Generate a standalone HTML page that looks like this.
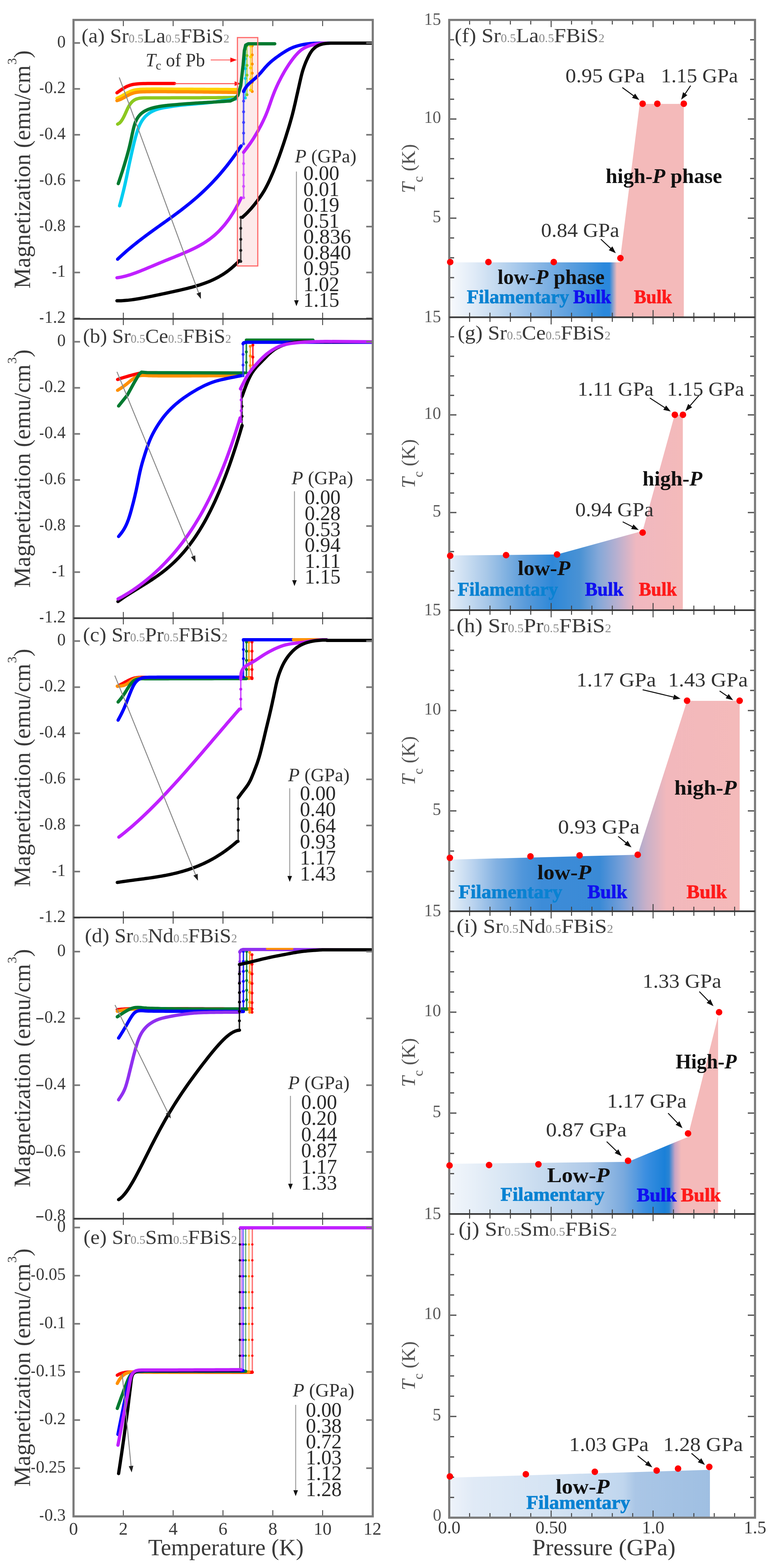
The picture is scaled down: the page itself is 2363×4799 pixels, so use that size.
<!DOCTYPE html>
<html><head><meta charset="utf-8"><title>Figure</title>
<style>html,body{margin:0;padding:0;background:#fff;}svg{display:block;}text{font-family:"Liberation Serif",serif;}</style>
</head><body>
<svg width="2363" height="4799" viewBox="0 0 2363 4799">
<rect width="2363" height="4799" fill="#fff"/>
<defs><linearGradient id="gf" gradientUnits="userSpaceOnUse" x1="1375" y1="0" x2="2093" y2="0"><stop offset="0.0000" stop-color="#f8fafd"/><stop offset="0.1045" stop-color="#e0ebf7"/><stop offset="0.1978" stop-color="#c4daf0"/><stop offset="0.3134" stop-color="#9fc4ea"/><stop offset="0.3955" stop-color="#84b4e4"/><stop offset="0.5223" stop-color="#5a9ede"/><stop offset="0.5933" stop-color="#4494dc"/><stop offset="0.6602" stop-color="#2a88dc"/><stop offset="0.6838" stop-color="#2a88dc"/><stop offset="0.7145" stop-color="#f4baba"/><stop offset="1.0000" stop-color="#f4baba"/></linearGradient>
<linearGradient id="gg" gradientUnits="userSpaceOnUse" x1="1375" y1="0" x2="2090" y2="0"><stop offset="0.0000" stop-color="#e6eff9"/><stop offset="0.1594" stop-color="#a8c8e8"/><stop offset="0.3203" stop-color="#5c9cda"/><stop offset="0.4406" stop-color="#2e88d8"/><stop offset="0.5594" stop-color="#4a92d4"/><stop offset="0.6392" stop-color="#84a8d8"/><stop offset="0.7189" stop-color="#b8b0d0"/><stop offset="0.8000" stop-color="#f0b8c0"/><stop offset="1.0000" stop-color="#f4baba"/></linearGradient>
<linearGradient id="gh" gradientUnits="userSpaceOnUse" x1="1375" y1="0" x2="2264" y2="0"><stop offset="0.0000" stop-color="#eaf2f9"/><stop offset="0.0844" stop-color="#b8d2ee"/><stop offset="0.1597" stop-color="#84b2e2"/><stop offset="0.2531" stop-color="#5096da"/><stop offset="0.3195" stop-color="#3d8cd8"/><stop offset="0.5186" stop-color="#3a8ad6"/><stop offset="0.5984" stop-color="#7aa0d8"/><stop offset="0.6783" stop-color="#c8b0c8"/><stop offset="0.7480" stop-color="#f2b8bc"/><stop offset="1.0000" stop-color="#f4baba"/></linearGradient>
<linearGradient id="gi" gradientUnits="userSpaceOnUse" x1="1375" y1="0" x2="2199" y2="0"><stop offset="0.0000" stop-color="#f2f6fb"/><stop offset="0.2585" stop-color="#d2e2f2"/><stop offset="0.5170" stop-color="#b0cae8"/><stop offset="0.6456" stop-color="#7aaade"/><stop offset="0.7318" stop-color="#3a8ee0"/><stop offset="0.8010" stop-color="#1a80d8"/><stop offset="0.8167" stop-color="#2a84d4"/><stop offset="0.8386" stop-color="#c8a4c4"/><stop offset="0.8617" stop-color="#f4baba"/><stop offset="1.0000" stop-color="#f4baba"/></linearGradient>
<linearGradient id="gj" gradientUnits="userSpaceOnUse" x1="1375" y1="0" x2="2173" y2="0"><stop offset="0.0000" stop-color="#eef3fa"/><stop offset="0.0940" stop-color="#e0eaf6"/><stop offset="0.4073" stop-color="#d4e3f3"/><stop offset="0.6667" stop-color="#c0d6ee"/><stop offset="0.7143" stop-color="#aac6e6"/><stop offset="1.0000" stop-color="#9fbfe2"/></linearGradient>
<clipPath id="clipL"><rect x="228" y="64" width="910" height="4574"/></clipPath></defs>
<polygon points="1375,803 1897,803 1958,318 2093,318 2093,971 1375,971" fill="url(#gf)"/>
<polygon points="1375,1700 1705,1697 1967,1625 2065,1270 2090,1270 2090,1867.5 1375,1867.5" fill="url(#gg)"/>
<polygon points="1375,2631 1952,2616 2041,2339 2103,2145 2264,2145 2264,2789 1375,2789" fill="url(#gh)"/>
<polygon points="1375,3562 1922,3556 2105,3480 2201,3098 2198,3098 2198,3715.5 1375,3715.5" fill="url(#gi)"/>
<polygon points="1375,4522.5 2173,4498.5 2173,4645 1375,4645" fill="url(#gj)"/>
<g clip-path="url(#clipL)">
<rect x="726.7" y="115" width="62.3" height="699" fill="#fdeaea"/>
<line x1="772" y1="280" x2="772" y2="140" stroke="#ff9000" stroke-width="4" stroke-opacity="0.7"/>
<circle cx="772" cy="280" r="4.5" fill="#ff9000"/>
<circle cx="772" cy="252" r="4.5" fill="#ff9000"/>
<circle cx="772" cy="224" r="4.5" fill="#ff9000"/>
<circle cx="772" cy="196" r="4.5" fill="#ff9000"/>
<circle cx="772" cy="168" r="4.5" fill="#ff9000"/>
<circle cx="772" cy="140" r="4.5" fill="#ff9000"/>
<line x1="767" y1="276" x2="767" y2="140" stroke="#ffd200" stroke-width="4" stroke-opacity="0.7"/>
<circle cx="767" cy="276" r="4.5" fill="#ffd200"/>
<circle cx="767" cy="242" r="4.5" fill="#ffd200"/>
<circle cx="767" cy="208" r="4.5" fill="#ffd200"/>
<circle cx="767" cy="174" r="4.5" fill="#ffd200"/>
<circle cx="767" cy="140" r="4.5" fill="#ffd200"/>
<line x1="751" y1="300" x2="751" y2="150" stroke="#00cdf0" stroke-width="4" stroke-opacity="0.8"/>
<circle cx="751" cy="300" r="4.5" fill="#00cdf0"/>
<circle cx="751" cy="270" r="4.5" fill="#00cdf0"/>
<circle cx="751" cy="240" r="4.5" fill="#00cdf0"/>
<circle cx="751" cy="210" r="4.5" fill="#00cdf0"/>
<circle cx="751" cy="180" r="4.5" fill="#00cdf0"/>
<circle cx="751" cy="150" r="4.5" fill="#00cdf0"/>
<line x1="756" y1="290" x2="756" y2="140" stroke="#8cc820" stroke-width="4" stroke-opacity="0.7"/>
<circle cx="756" cy="290" r="4.5" fill="#8cc820"/>
<circle cx="756" cy="260" r="4.5" fill="#8cc820"/>
<circle cx="756" cy="230" r="4.5" fill="#8cc820"/>
<circle cx="756" cy="200" r="4.5" fill="#8cc820"/>
<circle cx="756" cy="170" r="4.5" fill="#8cc820"/>
<circle cx="756" cy="140" r="4.5" fill="#8cc820"/>
<path d="M358,301 L363.7,298.4 L369.4,295.6 L375,292.4 L380.7,289.1 L386.4,285.9 L392.1,282.9 L397.8,280.2 L403.6,278 L409.4,276.2 L415.1,275 L420.9,274.2 L426.7,273.6 L432.5,273.3 L438.1,273.1 L443.5,272.9 L448.7,272.8 L453.9,272.7 L459,272.7 L464.4,272.6 L470,272.6 L475.7,272.6 L481.7,272.6 L487.8,272.6 L494.1,272.6 L500.5,272.7 L507,272.7 L513.5,272.7 L520.2,272.8 L526.8,272.8 L533.5,272.9 L540.1,272.9 L546.6,272.9 L553.1,273 L559.3,273 L565.4,273 L571.3,273 L577.2,273.1 L583,273.1 L588.9,273.1 L594.8,273.2 L600.8,273.2 L606.8,273.2 L612.8,273.3 L618.9,273.3 L625,273.3 L631.2,273.4 L637.3,273.4 L643.5,273.5 L649.7,273.5 L655.9,273.5 L662.2,273.6 L668.4,273.6 L674.6,273.7 L680.8,273.7 L687,273.8 L693.2,273.8 L699.4,273.8 L705.6,273.9 L711.8,273.9 L717.9,274 L724,274" fill="none" stroke="#ffd200" stroke-width="10" stroke-linecap="round" stroke-linejoin="round"/>
<path d="M358,308 L363.7,306.2 L369.4,304 L375,301.1 L380.7,298 L386.4,294.8 L392.1,291.7 L397.8,288.8 L403.6,286.4 L409.4,284.5 L415.1,283.1 L420.9,282.2 L426.7,281.6 L432.5,281.3 L438.1,281.1 L443.5,280.9 L448.7,280.8 L453.9,280.7 L459,280.7 L464.4,280.6 L470,280.6 L475.7,280.6 L481.7,280.6 L487.8,280.6 L494.1,280.6 L500.5,280.6 L507,280.6 L513.5,280.7 L520.2,280.7 L526.8,280.8 L533.5,280.8 L540.1,280.9 L546.6,280.9 L553.1,281 L559.3,281 L565.4,281 L571.3,281.1 L577.2,281.1 L583,281.2 L588.9,281.2 L594.8,281.3 L600.8,281.4 L606.8,281.4 L612.8,281.5 L618.9,281.6 L625,281.7 L631.2,281.7 L637.3,281.8 L643.5,281.9 L649.7,282 L655.9,282.1 L662.2,282.2 L668.4,282.3 L674.6,282.3 L680.8,282.4 L687,282.5 L693.2,282.6 L699.4,282.7 L705.6,282.8 L711.8,282.8 L717.9,282.9 L724,283" fill="none" stroke="#ff9000" stroke-width="10" stroke-linecap="round" stroke-linejoin="round"/>
<path d="M358,284 L363.6,280 L369.2,276 L374.8,272.3 L380.3,269 L385.8,265.9 L391.4,263.3 L397,261.1 L402.6,259.5 L408.4,258.2 L414.3,257.4 L420.3,256.8 L426.4,256.3 L432.6,256 L438.7,255.8 L444.9,255.7 L451.1,255.6 L457.4,255.5 L463.8,255.5 L470.2,255.5 L476.5,255.5 L482.7,255.5 L488.8,255.5 L494.8,255.5 L500.9,255.5 L506.9,255.5 L512.9,255.5 L518.9,255.5 L525,255.5 L531,255.5 L534,255.5" fill="none" stroke="#ff0000" stroke-width="10" stroke-linecap="round" stroke-linejoin="round"/>
<line x1="534" y1="256" x2="724" y2="256" stroke="#ff5050" stroke-width="3"/>
<polygon points="738,256 718,263 718,249" fill="#ff2020"/>
<path d="M360,380 L366.4,376.2 L370.6,371.5 L374.1,366.2 L377.3,360.7 L380.3,354.9 L383.1,348.9 L385.8,342.9 L388.5,336.8 L391.3,330.8 L394.4,325 L397.8,319.5 L401.7,314.4 L406,310 L410.8,306.4 L415.8,303.8 L421,302 L426.1,300.8 L431.3,300.2 L436.7,299.8 L442.4,299.5 L448.4,299.4 L454.7,299.4 L461.3,299.4 L468.1,299.4 L475,299.4 L481.9,299.5 L488.8,299.5 L495.4,299.5 L501.6,299.5 L507.7,299.4 L513.5,299.4 L519.3,299.4 L525.1,299.3 L531.1,299.3 L537.2,299.3 L543.4,299.3 L549.7,299.2 L556,299.2 L562.4,299.2 L568.9,299.2 L575.3,299.2 L581.8,299.2 L588.2,299.2 L594.6,299.2 L600.9,299.2 L607.2,299.2 L613.3,299.2 L619.4,299.1 L625.3,299.1 L631,299.1 L636.7,299.1 L642.5,299 L648.3,299 L654.3,298.9 L660.5,298.9 L666.9,298.8 L673.1,298.7 L679.4,298.7 L685.4,298.6 L691.4,298.5 L697.3,298.4 L703.2,298.3 L709.1,298.2 L715,298.1 L721,298 L724,298" fill="none" stroke="#8cc820" stroke-width="10" stroke-linecap="round" stroke-linejoin="round"/>
<path d="M366,630 L367.6,624.1 L369.2,618.2 L370.8,612.2 L372.3,606.3 L373.8,600.4 L375.3,594.4 L376.8,588.5 L378.3,582.6 L379.7,576.6 L381.1,570.5 L382.5,564.5 L383.8,558.4 L385.1,552.5 L386.4,546.5 L387.7,540.6 L388.9,534.7 L390.1,528.8 L391.3,522.8 L392.6,516.8 L393.8,510.9 L395,504.9 L396.3,499 L397.6,493 L398.9,487.1 L400.2,481.1 L401.5,475.2 L402.8,469.3 L404.1,463.4 L405.5,457.5 L406.9,451.4 L408.3,445.3 L409.8,439.1 L411.3,433 L412.9,426.9 L414.5,420.8 L416.2,414.8 L418,408.7 L419.9,402.7 L421.9,396.8 L424.1,390.9 L426.5,385.1 L429.1,379.5 L432,374 L435.2,368.6 L438.8,363.6 L442.7,358.8 L446.9,354.4 L451.4,350.4 L456.3,346.7 L461.5,343.4 L466.8,340.4 L472.2,337.9 L477.6,335.8 L483.1,334 L488.7,332.5 L494.5,331.1 L500.5,329.9 L506.8,328.8 L513.1,327.7 L519.5,326.7 L525.7,325.7 L531.8,324.8 L537.6,324 L543.4,323.3 L549.2,322.6 L555,321.9 L561,321.3 L567.2,320.7 L573.4,320.1 L579.7,319.5 L586,319 L592.4,318.4 L598.8,317.9 L605.2,317.3 L611.5,316.8 L617.8,316.2 L623.9,315.7 L629.9,315.1 L635.9,314.5 L641.8,313.9 L647.8,313.2 L653.9,312.4 L660.1,311.6 L666.4,310.8 L672.7,309.9 L678.9,309 L685,308 L691,307.1 L697,306.2 L703,305.3 L708.9,304.3 L714.9,303.4 L720.9,302.5 L724,302" fill="none" stroke="#00cdf0" stroke-width="10" stroke-linecap="round" stroke-linejoin="round"/>
<path d="M362,562 L364,556.1 L366,550.2 L367.9,544.2 L369.9,538.3 L371.8,532.3 L373.8,526.4 L375.7,520.4 L377.5,514.4 L379.4,508.4 L381.3,502.3 L383.1,496.2 L384.9,490.1 L386.7,484 L388.5,477.8 L390.2,471.7 L391.9,465.5 L393.6,459.4 L395.2,453.2 L396.7,446.9 L398.2,440.6 L399.6,434.3 L401,428 L402.4,421.6 L403.7,415.4 L405,409.1 L406.4,403 L407.8,396.8 L409.3,390.8 L410.9,384.9 L412.7,379.1 L414.7,373.4 L417.1,368 L419.9,362.7 L423.2,357.7 L426.9,353 L431,348.7 L435.6,344.9 L440.6,341.4 L445.9,338.4 L451.6,335.7 L457.5,333.4 L463.6,331.3 L469.8,329.6 L476,328.1 L482.1,326.8 L488.3,325.7 L494.4,324.8 L500.3,324 L506,323.3 L511.7,322.6 L517.4,322.1 L523.3,321.5 L529.3,320.9 L535.6,320.4 L542,319.9 L548.6,319.3 L555.1,318.8 L561.7,318.3 L568.1,317.8 L574.5,317.3 L580.8,316.9 L587,316.4 L593.3,316 L599.5,315.6 L605.8,315.2 L612.2,314.8 L618.4,314.4 L624.7,314 L630.8,313.7 L636.8,313.3 L642.8,313 L648.7,312.7 L654.6,312.3 L660.5,311.9 L666.5,311.6 L672.5,311.2 L678.5,310.8 L684.4,310.4 L690.3,310 L696.2,309.6 L702,309.2 L705,309" fill="none" stroke="#007a30" stroke-width="10" stroke-linecap="round" stroke-linejoin="round"/>
<path d="M705,309 L718,303 L728,292 L737,262 L744,200 L748,155 L752,138 L760,134 L841,134" fill="none" stroke="#007a30" stroke-width="10" stroke-linecap="round" stroke-linejoin="round"/>
<path d="M360,793.4 L366.4,787.3 L372.8,781.4 L379.2,775.7 L385.6,770 L392,764.5 L398.4,759.1 L404.8,753.8 L411.3,748.6 L417.7,743.5 L424.1,738.4 L430.5,733.5 L436.9,728.6 L443.3,723.8 L449.7,719 L456.1,714.3 L462.5,709.6 L468.9,705 L475.3,700.4 L481.7,695.8 L488.1,691.2 L494.5,686.7 L500.9,682.1 L507.4,677.5 L513.8,672.9 L520.2,668.3 L526.6,663.7 L533,659 L539.4,654.3 L545.8,649.5 L552.2,644.7 L558.6,639.8 L565,634.8 L571.4,629.7 L577.8,624.6 L584.2,619.4 L590.6,614 L597.1,608.6 L603.5,603 L609.9,597.3 L616.3,591.5 L622.7,585.5 L629.1,579.4 L635.5,573.2 L641.9,566.8 L648.3,560.2 L654.7,553.4 L661.1,546.5 L667.5,539.4 L673.9,532.1 L680.3,524.5 L686.7,516.8 L693.2,508.9 L699.6,500.7 L706,492.3 L712.4,483.7 L718.8,474.8 L725.2,465.6 L731.6,456.2 L738,446.6" fill="none" stroke="#0000ff" stroke-width="10" stroke-linecap="round" stroke-linejoin="round"/>
<line x1="745.6" y1="440" x2="745.6" y2="277" stroke="#4040ff" stroke-width="5" stroke-opacity="0.85"/>
<circle cx="745.6" cy="440" r="4.5" fill="#4040ff"/>
<circle cx="745.6" cy="407.4" r="4.5" fill="#4040ff"/>
<circle cx="745.6" cy="374.8" r="4.5" fill="#4040ff"/>
<circle cx="745.6" cy="342.2" r="4.5" fill="#4040ff"/>
<circle cx="745.6" cy="309.6" r="4.5" fill="#4040ff"/>
<circle cx="745.6" cy="277" r="4.5" fill="#4040ff"/>
<path d="M745.6,280 L748.1,274.7 L751,269.5 L754.4,264.8 L758.1,260.4 L762.2,256.1 L766.6,252.1 L771.3,248.1 L776.1,244 L780.9,239.9 L785.6,235.7 L790.1,231.3 L794.4,226.7 L798.6,222.1 L802.6,217.3 L806.7,212.5 L810.7,207.7 L814.9,203.1 L819.1,198.6 L823.5,194.3 L828,190.1 L832.6,186.2 L837.3,182.4 L842.1,178.6 L847,175 L852,171.5 L857,167.9 L862.1,164.4 L867.4,161 L872.7,157.6 L878.1,154.4 L883.6,151.3 L889.1,148.5 L894.8,146 L900.5,143.7 L906.4,141.8 L912.2,140 L918.1,138.5 L924,137.2 L929.9,136 L935.9,135 L941.9,134.2 L948,133.5 L954,133 L960.1,132.6 L966.1,132.4 L972.2,132.2 L978.3,132.1 L984.4,132 L990.7,132 L996.9,132 L1000,132" fill="none" stroke="#0000ff" stroke-width="10" stroke-linecap="round" stroke-linejoin="round"/>
<path d="M1000,132 L1141,132" fill="none" stroke="#0000ff" stroke-width="10" stroke-linecap="round" stroke-linejoin="round"/>
<path d="M358,850.1 L364.4,849.2 L370.9,848.1 L377.3,846.7 L383.8,845.1 L390.2,843.3 L396.6,841.4 L403.1,839.3 L409.5,837 L416,834.7 L422.4,832.3 L428.8,829.8 L435.3,827.2 L441.7,824.6 L448.2,821.9 L454.6,819.2 L461.1,816.5 L467.5,813.8 L473.9,811.1 L480.4,808.4 L486.8,805.7 L493.3,803 L499.7,800.4 L506.1,797.7 L512.6,795.1 L519,792.5 L525.5,789.9 L531.9,787.3 L538.3,784.6 L544.8,782 L551.2,779.4 L557.7,776.7 L564.1,774 L570.5,771.2 L577,768.4 L583.4,765.4 L589.9,762.4 L596.3,759.3 L602.7,756 L609.2,752.5 L615.6,748.9 L622.1,745.1 L628.5,741 L634.9,736.7 L641.4,732.1 L647.8,727.1 L654.3,721.9 L660.7,716.2 L667.2,710.2 L673.6,703.7 L680,696.7 L686.5,689.3 L692.9,681.2 L699.4,672.6 L705.8,663.3 L712.2,653.4 L718.7,642.7 L725.1,631.3 L731.6,619.1 L738,606" fill="none" stroke="#c020ff" stroke-width="10" stroke-linecap="round" stroke-linejoin="round"/>
<line x1="745.6" y1="605" x2="745.6" y2="466" stroke="#d050ff" stroke-width="5" stroke-opacity="0.85"/>
<circle cx="745.6" cy="605" r="4.5" fill="#d050ff"/>
<circle cx="745.6" cy="570.2" r="4.5" fill="#d050ff"/>
<circle cx="745.6" cy="535.5" r="4.5" fill="#d050ff"/>
<circle cx="745.6" cy="500.8" r="4.5" fill="#d050ff"/>
<circle cx="745.6" cy="466" r="4.5" fill="#d050ff"/>
<path d="M745.6,466 L749.4,461 L753.3,455.9 L757.1,450.9 L760.8,445.8 L764.5,440.7 L768.1,435.5 L771.6,430.3 L775.1,425 L778.4,419.6 L781.7,414.2 L784.9,408.7 L788.1,403.3 L791.1,397.9 L794,392.5 L796.9,387.1 L799.8,381.6 L802.6,376 L805.4,370.3 L808.1,364.5 L810.8,358.7 L813.3,352.9 L815.7,347.1 L818,341.4 L820.2,335.6 L822.3,329.7 L824.4,323.8 L826.5,317.8 L828.6,311.7 L830.7,305.7 L832.8,299.7 L835,293.8 L837.2,288 L839.5,282.2 L841.8,276.4 L844.3,270.7 L846.9,264.9 L849.5,259.2 L852.2,253.5 L855,247.9 L857.8,242.4 L860.6,237 L863.5,231.6 L866.5,226.2 L869.5,220.9 L872.6,215.6 L875.8,210.3 L879.1,205.1 L882.4,199.9 L885.8,194.8 L889.3,189.8 L892.8,185 L896.4,180.2 L900.1,175.5 L904,170.8 L908,166.3 L912.1,161.9 L916.5,157.7 L921,153.8 L925.9,150.3 L931.1,147.1 L936.7,144.2 L942.5,141.8 L948.6,139.6 L954.8,137.8 L961,136.3 L967.4,135 L973.7,133.9 L980.1,133.1 L986.6,132.5 L993.2,132.1 L1000,132" fill="none" stroke="#c020ff" stroke-width="10" stroke-linecap="round" stroke-linejoin="round"/>
<path d="M358,920.6 L364.3,920.6 L370.7,920.4 L377,920.1 L383.4,919.6 L389.7,919.1 L396,918.4 L402.4,917.6 L408.7,916.7 L415.1,915.8 L421.4,914.8 L427.7,913.7 L434.1,912.5 L440.4,911.4 L446.7,910.2 L453.1,908.9 L459.4,907.6 L465.8,906.3 L472.1,905 L478.4,903.7 L484.8,902.4 L491.1,901 L497.5,899.7 L503.8,898.3 L510.1,897 L516.5,895.6 L522.8,894.2 L529.2,892.8 L535.5,891.4 L541.8,890 L548.2,888.6 L554.5,887.1 L560.8,885.6 L567.2,884.1 L573.5,882.6 L579.9,880.9 L586.2,879.3 L592.5,877.6 L598.9,875.8 L605.2,873.9 L611.6,871.9 L617.9,869.8 L624.2,867.6 L630.6,865.3 L636.9,862.9 L643.3,860.3 L649.6,857.5 L655.9,854.5 L662.3,851.3 L668.6,848 L674.9,844.3 L681.3,840.5 L687.6,836.4 L694,831.9 L700.3,827.2 L706.6,822.2 L713,816.8 L719.3,811 L725.7,804.9 L732,798.3" fill="none" stroke="#000000" stroke-width="10" stroke-linecap="round" stroke-linejoin="round"/>
<line x1="737" y1="800" x2="737" y2="665" stroke="#202020" stroke-width="4.5" stroke-opacity="0.8"/>
<circle cx="737" cy="800" r="4.5" fill="#202020"/>
<circle cx="737" cy="766.2" r="4.5" fill="#202020"/>
<circle cx="737" cy="732.5" r="4.5" fill="#202020"/>
<circle cx="737" cy="698.8" r="4.5" fill="#202020"/>
<circle cx="737" cy="665" r="4.5" fill="#202020"/>
<path d="M742,665 L746.4,660.9 L750.9,656.8 L755.3,652.5 L759.5,648.2 L763.7,643.7 L767.8,639.2 L771.8,634.5 L775.8,629.7 L779.8,624.8 L783.7,619.8 L787.4,614.9 L791.1,610 L794.7,605.1 L798.1,600.1 L801.5,595.1 L804.7,590 L807.9,584.9 L810.9,579.7 L813.8,574.4 L816.6,569 L819.4,563.5 L822.1,558 L824.8,552.4 L827.3,546.8 L829.7,541.3 L832.1,535.8 L834.6,530.1 L837,524.3 L839.4,518.4 L841.8,512.4 L844.1,506.4 L846.4,500.5 L848.5,494.8 L850.6,489.1 L852.7,483.5 L854.8,477.9 L856.8,472.1 L858.9,466.3 L860.9,460.5 L862.9,454.6 L864.9,448.7 L866.9,442.8 L868.9,436.9 L870.8,431 L872.7,425.2 L874.6,419.4 L876.4,413.6 L878.2,407.8 L880,402 L881.8,396.2 L883.6,390.4 L885.4,384.5 L887.1,378.7 L888.8,372.9 L890.4,367 L892.1,361.1 L893.7,355.2 L895.3,349.3 L896.8,343.2 L898.3,337.2 L899.8,331 L901.2,324.9 L902.7,318.8 L904.1,312.7 L905.4,306.6 L906.8,300.5 L908.1,294.5 L909.5,288.5 L910.9,282.5 L912.2,276.4 L913.6,270.3 L915,264.1 L916.4,257.8 L917.8,251.5 L919.2,245.4 L920.6,239.3 L922,233.3 L923.5,227.5 L925,221.7 L926.7,216 L928.6,210.1 L930.7,204.1 L932.9,198.1 L935.2,192.2 L937.6,186.5 L940.2,180.9 L942.9,175.2 L945.8,169.5 L948.9,163.8 L952.4,158.4 L956.1,153.4 L960.4,148.9 L965,144.8 L970.1,141.4 L975.5,138.5 L981.2,136.3 L987.2,134.7 L993.4,133.5 L999.6,132.8 L1005.7,132.4 L1011.8,132.1 L1017.8,132 L1023.9,132 L1030,132" fill="none" stroke="#000000" stroke-width="10" stroke-linecap="round" stroke-linejoin="round"/>
<path d="M1030,132 L1141,132" fill="none" stroke="#000000" stroke-width="10" stroke-linecap="round" stroke-linejoin="round"/>
<rect x="726.7" y="115" width="62.3" height="699" fill="none" stroke="#ff6a6a" stroke-width="3.5"/>
<line x1="645" y1="183.5" x2="712" y2="183.5" stroke="#ff7070" stroke-width="3"/>
<polygon points="725,183.5 705,191 705,176" fill="#ff1010"/>
<line x1="365" y1="237" x2="610.8" y2="903.7" stroke="#8a8a8a" stroke-width="3"/>
<polygon points="615,915 601.5,898.7 614.6,893.8" fill="#222"/>
<line x1="774" y1="1130" x2="774" y2="1056" stroke="#ff0000" stroke-width="4.5" stroke-opacity="0.85"/>
<circle cx="774" cy="1130" r="4.5" fill="#ff0000"/>
<circle cx="774" cy="1093" r="4.5" fill="#ff0000"/>
<circle cx="774" cy="1056" r="4.5" fill="#ff0000"/>
<line x1="766" y1="1148" x2="766" y2="1060" stroke="#ff9000" stroke-width="4.5" stroke-opacity="0.8"/>
<circle cx="766" cy="1148" r="4.5" fill="#ff9000"/>
<circle cx="766" cy="1118.7" r="4.5" fill="#ff9000"/>
<circle cx="766" cy="1089.3" r="4.5" fill="#ff9000"/>
<circle cx="766" cy="1060" r="4.5" fill="#ff9000"/>
<path d="M360,1161.4 L365.7,1159.5 L371.5,1157.6 L377.3,1155.8 L383.2,1154 L389.2,1152.2 L395.3,1150.4 L401.4,1148.7 L407.5,1147.1 L413.5,1145.6 L419.5,1144.2 L425.2,1143 L430.8,1142.1 L436.1,1141.4 L441.4,1141 L446.7,1140.8 L452.3,1140.7 L458.3,1140.7 L464.5,1140.7 L471.1,1140.8 L477.8,1140.8 L484.7,1140.9 L491.3,1140.9 L497.6,1141 L503.3,1141 L508.7,1141 L513.8,1141 L518.8,1141 L523.9,1141 L529,1141 L534.4,1141 L539.8,1141.1 L545.4,1141.1 L551.1,1141.1 L556.9,1141.1 L562.8,1141.1 L568.8,1141.2 L574.9,1141.2 L581.1,1141.2 L587.3,1141.2 L593.6,1141.3 L600,1141.3 L606.5,1141.3 L613,1141.4 L619.5,1141.4 L626.1,1141.4 L632.6,1141.5 L639.3,1141.5 L645.9,1141.6 L652.5,1141.6 L659.1,1141.6 L665.7,1141.7 L672.3,1141.7 L678.9,1141.7 L685.5,1141.8 L692,1141.8 L698.4,1141.8 L704.8,1141.9 L711.2,1141.9 L717.5,1141.9 L723.8,1142 L730,1142 L733,1142" fill="none" stroke="#ff0000" stroke-width="10" stroke-linecap="round" stroke-linejoin="round"/>
<path d="M360,1194.5 L365.1,1191.3 L370.3,1188 L375.3,1184.6 L380.2,1181 L385.1,1177.3 L389.9,1173.5 L394.6,1169.5 L399.4,1165.6 L404.3,1161.7 L409.4,1158.1 L414.7,1154.8 L420.1,1152.2 L425.6,1150.3 L431.1,1149.3 L436.6,1148.9 L442,1149.1 L447,1149.3 L451.5,1149.6 L455.7,1149.9 L459.5,1150 L463.3,1150.1 L467.2,1150.2 L471.3,1150.3 L475.6,1150.3 L480.2,1150.3 L484.9,1150.4 L489.8,1150.4 L495,1150.4 L500.3,1150.5 L505.8,1150.5 L511.4,1150.5 L517.2,1150.5 L523.2,1150.5 L529.3,1150.5 L535.5,1150.5 L541.8,1150.5 L548.3,1150.5 L554.9,1150.5 L561.5,1150.4 L568.3,1150.4 L575.1,1150.4 L582,1150.4 L588.9,1150.3 L595.9,1150.3 L603,1150.3 L610.1,1150.3 L617.2,1150.2 L624.3,1150.2 L631.4,1150.2 L638.6,1150.1 L645.7,1150.1 L652.8,1150.1 L659.9,1150 L667,1150 L674,1150 L680.9,1149.9 L687.8,1149.9 L694.6,1149.9 L701.4,1149.9 L708.1,1149.9 L714.6,1149.8 L721.1,1149.8 L727.6,1149.8 L733.9,1149.8 L740,1149.8" fill="none" stroke="#ff9000" stroke-width="10" stroke-linecap="round" stroke-linejoin="round"/>
<path d="M363,1242.6 L389.7,1209.4 L409.6,1173 L426,1145 L433,1139 L450,1140.5 L748,1141.5" fill="none" stroke="#007a30" stroke-width="10" stroke-linecap="round" stroke-linejoin="round"/>
<line x1="754" y1="1141" x2="754" y2="1045" stroke="#007a30" stroke-width="5" stroke-opacity="0.85"/>
<circle cx="754" cy="1141" r="4.5" fill="#007a30"/>
<circle cx="754" cy="1109" r="4.5" fill="#007a30"/>
<circle cx="754" cy="1077" r="4.5" fill="#007a30"/>
<circle cx="754" cy="1045" r="4.5" fill="#007a30"/>
<path d="M754,1041 L958,1041" fill="none" stroke="#007a30" stroke-width="10" stroke-linecap="round" stroke-linejoin="round"/>
<path d="M363,1642 L366.9,1637.1 L370.8,1632.3 L374.5,1627.2 L378,1622 L381.1,1616.7 L384,1611.3 L386.6,1605.8 L389.1,1600.2 L391.4,1594.4 L393.5,1588.6 L395.5,1582.6 L397.4,1576.6 L399.2,1570.5 L400.9,1564.5 L402.6,1558.4 L404.2,1552.3 L405.8,1546.3 L407.4,1540.3 L408.9,1534.4 L410.3,1528.5 L411.8,1522.5 L413.2,1516.6 L414.5,1510.7 L415.9,1504.8 L417.2,1498.9 L418.4,1492.9 L419.7,1487 L420.9,1481 L422.1,1475.1 L423.3,1469.1 L424.4,1463.2 L425.6,1457.3 L426.9,1451.3 L428.1,1445.4 L429.5,1439.5 L430.9,1433.6 L432.4,1427.7 L434,1421.8 L435.6,1415.9 L437.4,1410 L439.1,1404.1 L441,1398.2 L442.8,1392.3 L444.7,1386.4 L446.6,1380.5 L448.6,1374.5 L450.6,1368.6 L452.7,1362.7 L454.8,1356.8 L457.1,1351 L459.5,1345.2 L462,1339.5 L464.6,1333.9 L467.4,1328.3 L470.3,1322.8 L473.3,1317.4 L476.4,1312 L479.6,1306.7 L482.8,1301.5 L486.2,1296.3 L489.7,1291.1 L493.2,1286.1 L496.9,1281 L500.6,1276.1 L504.5,1271.2 L508.5,1266.5 L512.7,1261.8 L516.9,1257.2 L521.3,1252.7 L525.7,1248.3 L530.3,1244 L535,1239.7 L539.7,1235.6 L544.6,1231.6 L549.5,1227.6 L554.5,1223.8 L559.5,1220 L564.6,1216.3 L569.8,1212.8 L575,1209.3 L580.3,1205.8 L585.6,1202.5 L591,1199.2 L596.5,1196 L601.9,1192.8 L607.4,1189.7 L612.9,1186.8 L618.5,1183.9 L624.1,1181 L629.8,1178.3 L635.5,1175.8 L641.3,1173.4 L647.1,1171.1 L653.1,1169 L659.1,1167.1 L665.1,1165.3 L671.2,1163.7 L677.4,1162.2 L683.5,1160.8 L689.6,1159.5 L695.7,1158.2 L701.8,1156.9 L707.8,1155.7 L713.8,1154.5 L719.8,1153.3 L725.8,1152.1 L731.6,1151 L737.5,1149.8" fill="none" stroke="#0000ff" stroke-width="10" stroke-linecap="round" stroke-linejoin="round"/>
<line x1="744" y1="1150" x2="744" y2="1052" stroke="#3030ff" stroke-width="5" stroke-opacity="0.85"/>
<circle cx="744" cy="1150" r="4.5" fill="#3030ff"/>
<circle cx="744" cy="1117.3" r="4.5" fill="#3030ff"/>
<circle cx="744" cy="1084.7" r="4.5" fill="#3030ff"/>
<circle cx="744" cy="1052" r="4.5" fill="#3030ff"/>
<path d="M744,1052 L746,1049 L755,1047.6 L1141,1047.6" fill="none" stroke="#0000ff" stroke-width="10" stroke-linecap="round" stroke-linejoin="round"/>
<path d="M361,1841 L367.4,1836.4 L373.9,1831.9 L380.3,1827.5 L386.8,1823.2 L393.2,1819.1 L399.6,1815 L406.1,1810.9 L412.5,1806.9 L419,1803 L425.4,1799 L431.8,1795.1 L438.3,1791.1 L444.7,1787.1 L451.2,1783 L457.6,1778.9 L464.1,1774.7 L470.5,1770.4 L476.9,1766 L483.4,1761.5 L489.8,1756.8 L496.3,1752 L502.7,1747 L509.1,1741.8 L515.6,1736.4 L522,1730.8 L528.5,1724.9 L534.9,1718.9 L541.3,1712.5 L547.8,1705.9 L554.2,1698.9 L560.7,1691.7 L567.1,1684.1 L573.5,1676.2 L580,1668 L586.4,1659.3 L592.9,1650.3 L599.3,1640.9 L605.7,1631.1 L612.2,1620.8 L618.6,1610.1 L625.1,1599 L631.5,1587.3 L637.9,1575.2 L644.4,1562.5 L650.8,1549.4 L657.3,1535.7 L663.7,1521.4 L670.2,1506.6 L676.6,1491.2 L683,1475.2 L689.5,1458.6 L695.9,1441.4 L702.4,1423.6 L708.8,1405 L715.2,1385.8 L721.7,1366 L728.1,1345.4 L734.6,1324.1 L741,1302.1" fill="none" stroke="#000000" stroke-width="10" stroke-linecap="round" stroke-linejoin="round"/>
<line x1="741" y1="1305" x2="741" y2="1213" stroke="#000000" stroke-width="4.5" stroke-opacity="0.8"/>
<circle cx="741" cy="1305" r="4.5" fill="#000000"/>
<circle cx="741" cy="1274.3" r="4.5" fill="#000000"/>
<circle cx="741" cy="1243.7" r="4.5" fill="#000000"/>
<circle cx="741" cy="1213" r="4.5" fill="#000000"/>
<path d="M741,1213 L743.1,1207.2 L745.2,1201.4 L747.3,1195.5 L749.4,1189.8 L751.6,1184 L753.8,1178.3 L756.1,1172.6 L758.5,1166.9 L761,1161.2 L763.7,1155.5 L766.5,1149.9 L769.5,1144.5 L772.6,1139.3 L776.1,1134.3 L779.7,1129.5 L783.5,1124.8 L787.5,1120.3 L791.6,1115.9 L795.9,1111.5 L800.1,1107.2 L804.4,1102.8 L808.7,1098.4 L813,1094 L817.3,1089.5 L821.7,1085.2 L826.3,1080.9 L830.9,1076.8 L835.7,1073 L840.7,1069.4 L845.9,1066.1 L851.3,1063.2 L856.9,1060.5 L862.6,1058.1 L868.5,1055.9 L874.4,1053.9 L880.4,1052.1 L886.4,1050.6 L892.5,1049.2 L898.5,1048.1 L904.5,1047.2 L910.6,1046.6 L916.7,1046.2 L922.7,1046 L928.8,1045.9 L934.9,1045.9 L941,1045.9 L947.1,1045.9 L953.3,1045.9 L959.5,1045.9 L965.7,1045.9 L971.9,1045.9 L978.2,1045.9 L984.4,1045.9 L990.6,1046 L996.9,1046 L1000,1046" fill="none" stroke="#000000" stroke-width="10" stroke-linecap="round" stroke-linejoin="round"/>
<path d="M1000,1046 L1141,1046" fill="none" stroke="#000000" stroke-width="10" stroke-linecap="round" stroke-linejoin="round"/>
<path d="M361.3,1833.1 L367.6,1829.8 L374,1826.3 L380.3,1822.7 L386.6,1818.9 L393,1815 L399.3,1811 L405.6,1806.8 L412,1802.5 L418.3,1798.1 L424.6,1793.5 L431,1788.8 L437.3,1784 L443.6,1779 L450,1773.9 L456.3,1768.6 L462.6,1763.2 L469,1757.7 L475.3,1752 L481.6,1746.1 L488,1740.1 L494.3,1733.9 L500.6,1727.5 L507,1721 L513.3,1714.3 L519.6,1707.4 L526,1700.3 L532.3,1693 L538.6,1685.5 L545,1677.7 L551.3,1669.7 L557.7,1661.5 L564,1653 L570.3,1644.3 L576.7,1635.3 L583,1626 L589.3,1616.4 L595.7,1606.5 L602,1596.2 L608.3,1585.7 L614.7,1574.7 L621,1563.5 L627.3,1551.8 L633.7,1539.7 L640,1527.3 L646.3,1514.4 L652.7,1501 L659,1487.3 L665.3,1473 L671.7,1458.2 L678,1442.9 L684.3,1427.1 L690.7,1410.7 L697,1393.8 L703.3,1376.3 L709.7,1358.1 L716,1339.3 L722.3,1319.9 L728.7,1299.8 L735,1279" fill="none" stroke="#c020ff" stroke-width="10" stroke-linecap="round" stroke-linejoin="round"/>
<line x1="738" y1="1290" x2="738" y2="1191" stroke="#c020ff" stroke-width="4.5" stroke-opacity="0.8"/>
<circle cx="738" cy="1290" r="4.5" fill="#c020ff"/>
<circle cx="738" cy="1257" r="4.5" fill="#c020ff"/>
<circle cx="738" cy="1224" r="4.5" fill="#c020ff"/>
<circle cx="738" cy="1191" r="4.5" fill="#c020ff"/>
<path d="M736,1190 L738.8,1184.5 L741.6,1178.9 L744.4,1173.4 L747.2,1167.9 L750,1162.4 L753,1157 L756,1151.8 L759.3,1146.6 L762.7,1141.5 L766.3,1136.6 L770,1131.7 L773.9,1126.9 L777.9,1122.3 L782,1117.7 L786.2,1113.1 L790.4,1108.4 L794.7,1103.8 L799.2,1099.2 L803.7,1094.7 L808.3,1090.4 L813.1,1086.2 L817.9,1082.2 L822.9,1078.5 L827.9,1075 L833,1071.6 L838.3,1068.5 L843.6,1065.5 L849,1062.8 L854.5,1060.3 L860.1,1058.2 L865.7,1056.4 L871.5,1054.8 L877.3,1053.5 L883.2,1052.4 L889.2,1051.4 L895.2,1050.6 L901.2,1049.8 L907.3,1049.1 L913.4,1048.5 L919.6,1048 L925.8,1047.5 L932,1047.1 L938.3,1046.8 L944.5,1046.5 L950.7,1046.2 L956.9,1045.9 L963.1,1045.7 L969.3,1045.6 L975.5,1045.4 L981.6,1045.3 L987.7,1045.2 L993.9,1045.1 L1000,1045" fill="none" stroke="#c020ff" stroke-width="10" stroke-linecap="round" stroke-linejoin="round"/>
<path d="M1000,1045 L1141,1046" fill="none" stroke="#c020ff" stroke-width="10" stroke-linecap="round" stroke-linejoin="round"/>
<line x1="358" y1="1138" x2="594.1" y2="1709.9" stroke="#8a8a8a" stroke-width="3"/>
<polygon points="598.7,1721 584.6,1705.2 597.5,1699.8" fill="#222"/>
<line x1="771.4" y1="2077" x2="771.4" y2="1965" stroke="#ff0000" stroke-width="4.5" stroke-opacity="0.85"/>
<circle cx="771.4" cy="2077" r="4.5" fill="#ff0000"/>
<circle cx="771.4" cy="2049" r="4.5" fill="#ff0000"/>
<circle cx="771.4" cy="2021" r="4.5" fill="#ff0000"/>
<circle cx="771.4" cy="1993" r="4.5" fill="#ff0000"/>
<circle cx="771.4" cy="1965" r="4.5" fill="#ff0000"/>
<line x1="761.8" y1="2077" x2="761.8" y2="1965" stroke="#ff9000" stroke-width="4.5" stroke-opacity="0.85"/>
<circle cx="761.8" cy="2077" r="4.5" fill="#ff9000"/>
<circle cx="761.8" cy="2049" r="4.5" fill="#ff9000"/>
<circle cx="761.8" cy="2021" r="4.5" fill="#ff9000"/>
<circle cx="761.8" cy="1993" r="4.5" fill="#ff9000"/>
<circle cx="761.8" cy="1965" r="4.5" fill="#ff9000"/>
<line x1="754.3" y1="2077" x2="754.3" y2="1965" stroke="#007a30" stroke-width="4.5" stroke-opacity="0.85"/>
<circle cx="754.3" cy="2077" r="4.5" fill="#007a30"/>
<circle cx="754.3" cy="2049" r="4.5" fill="#007a30"/>
<circle cx="754.3" cy="2021" r="4.5" fill="#007a30"/>
<circle cx="754.3" cy="1993" r="4.5" fill="#007a30"/>
<circle cx="754.3" cy="1965" r="4.5" fill="#007a30"/>
<path d="M360,2100.6 L365.9,2097.2 L371.8,2093.9 L377.6,2090.8 L383.2,2087.7 L388.7,2084.8 L394.1,2082 L399.6,2079.5 L405.1,2077.3 L410.6,2075.5 L416.3,2074.3 L422.1,2073.6 L428,2073.2 L433.6,2073 L438.8,2073 L443.4,2072.9 L447.5,2072.9 L451.3,2072.9 L455.1,2072.9 L459,2072.9 L463,2072.9 L467.3,2072.9 L471.7,2072.9 L476.3,2072.9 L481.1,2072.9 L486.1,2072.9 L491.2,2072.9 L496.5,2072.9 L501.9,2072.9 L507.5,2073 L513.2,2073 L519.1,2073 L525,2073.1 L531.1,2073.1 L537.3,2073.1 L543.6,2073.2 L550,2073.2 L556.5,2073.3 L563.1,2073.3 L569.7,2073.4 L576.4,2073.4 L583.2,2073.5 L590.1,2073.5 L597,2073.6 L603.9,2073.7 L610.9,2073.7 L617.9,2073.8 L625,2073.8 L632,2073.9 L639.1,2074 L646.2,2074 L653.3,2074.1 L660.4,2074.1 L667.5,2074.2 L674.5,2074.3 L681.5,2074.3 L688.5,2074.4 L695.5,2074.4 L702.4,2074.5 L709.3,2074.5 L716.1,2074.6 L722.8,2074.7 L729.5,2074.7 L736.1,2074.8 L742.7,2074.8 L749.1,2074.9 L755.5,2074.9 L761.8,2074.9 L768,2075 L771,2075" fill="none" stroke="#ff0000" stroke-width="10" stroke-linecap="round" stroke-linejoin="round"/>
<path d="M359,2100 L365.5,2099.7 L371.9,2099.2 L378.2,2098 L384,2095.7 L389.5,2092.8 L394.8,2089.4 L399.8,2085.6 L404.7,2082 L409.6,2078.9 L414.7,2076.7 L420.1,2075.4 L425.7,2074.9 L431.2,2074.7 L436.5,2074.8 L441.3,2074.9 L445.5,2075 L449.4,2075 L453.2,2075 L457,2075 L461,2075 L465.2,2075.1 L469.6,2075.1 L474.1,2075.1 L478.9,2075.1 L483.8,2075.1 L488.9,2075.1 L494.1,2075.1 L499.5,2075.2 L505.1,2075.2 L510.8,2075.2 L516.6,2075.2 L522.6,2075.2 L528.7,2075.2 L534.9,2075.3 L541.2,2075.3 L547.6,2075.3 L554.1,2075.3 L560.7,2075.3 L567.4,2075.4 L574.1,2075.4 L580.9,2075.4 L587.8,2075.4 L594.7,2075.5 L601.7,2075.5 L608.7,2075.5 L615.7,2075.5 L622.8,2075.5 L629.9,2075.6 L636.9,2075.6 L644,2075.6 L651.1,2075.6 L658.2,2075.7 L665.3,2075.7 L672.3,2075.7 L679.4,2075.7 L686.3,2075.8 L693.3,2075.8 L700.2,2075.8 L707,2075.8 L713.8,2075.8 L720.5,2075.9 L727.1,2075.9 L733.6,2075.9 L740.1,2075.9 L746.5,2076 L752.8,2076 L759,2076 L762,2076" fill="none" stroke="#ff9000" stroke-width="10" stroke-linecap="round" stroke-linejoin="round"/>
<path d="M361.5,2148.5 L365.7,2143.5 L369.8,2138.5 L373.7,2133.3 L377.5,2127.9 L381.2,2122.5 L384.7,2116.9 L388.1,2111.4 L391.5,2105.9 L394.9,2100.6 L398.4,2095.4 L402.3,2090.6 L406.5,2086.2 L411.2,2082.5 L416.4,2079.9 L422,2078.3 L427.8,2077.5 L433.5,2077.3 L438.7,2077.3 L443.4,2077.4 L447.5,2077.4 L451.3,2077.5 L455.1,2077.5 L459.1,2077.5 L463.2,2077.4 L467.5,2077.4 L472,2077.4 L476.7,2077.4 L481.6,2077.4 L486.7,2077.4 L491.9,2077.4 L497.3,2077.4 L502.9,2077.4 L508.6,2077.4 L514.5,2077.4 L520.4,2077.3 L526.5,2077.3 L532.8,2077.3 L539.1,2077.3 L545.6,2077.3 L552.1,2077.3 L558.7,2077.3 L565.4,2077.3 L572.2,2077.3 L579.1,2077.3 L586,2077.2 L592.9,2077.2 L599.9,2077.2 L607,2077.2 L614.1,2077.2 L621.2,2077.2 L628.3,2077.2 L635.4,2077.2 L642.5,2077.2 L649.6,2077.2 L656.8,2077.1 L663.8,2077.1 L670.9,2077.1 L677.9,2077.1 L684.9,2077.1 L691.8,2077.1 L698.7,2077.1 L705.5,2077.1 L712.2,2077.1 L718.9,2077.1 L725.5,2077 L732,2077 L738.4,2077 L744.8,2077 L751,2077 L754,2077" fill="none" stroke="#007a30" stroke-width="10" stroke-linecap="round" stroke-linejoin="round"/>
<path d="M361.5,2204 L364.5,2198.3 L367.6,2192.6 L370.6,2186.9 L373.5,2181.1 L376.2,2175.4 L378.8,2169.7 L381.3,2163.9 L383.7,2158.2 L386,2152.5 L388.3,2146.7 L390.5,2140.9 L392.8,2135.1 L395.1,2129.3 L397.4,2123.4 L399.8,2117.6 L402.2,2111.7 L404.9,2105.8 L407.7,2099.9 L410.9,2094.2 L414.5,2088.8 L418.7,2084.1 L423.4,2080.2 L428.6,2077.3 L434.1,2075.2 L439.9,2073.9 L445.7,2073.2 L451.3,2072.9 L456.7,2072.8 L461.5,2072.8 L465.8,2072.7 L469.8,2072.7 L473.7,2072.7 L477.7,2072.7 L481.9,2072.6 L486.3,2072.6 L490.9,2072.6 L495.8,2072.6 L500.8,2072.6 L506,2072.6 L511.4,2072.5 L517,2072.5 L522.7,2072.5 L528.6,2072.5 L534.6,2072.5 L540.7,2072.5 L547,2072.5 L553.4,2072.5 L560,2072.5 L566.6,2072.5 L573.3,2072.5 L580,2072.5 L586.9,2072.5 L593.8,2072.5 L600.8,2072.5 L607.8,2072.5 L614.9,2072.5 L621.9,2072.5 L629,2072.5 L636.1,2072.5 L643.2,2072.5 L650.3,2072.5 L657.4,2072.5 L664.5,2072.5 L671.5,2072.5 L678.5,2072.5 L685.4,2072.5 L692.2,2072.5 L699,2072.5 L705.7,2072.5 L712.4,2072.5 L718.9,2072.5 L725.4,2072.5 L731.7,2072.5 L738,2072.5 L741,2072.5" fill="none" stroke="#0000ff" stroke-width="10" stroke-linecap="round" stroke-linejoin="round"/>
<line x1="745" y1="2072" x2="745" y2="1960" stroke="#0000ff" stroke-width="5" stroke-opacity="0.85"/>
<circle cx="745" cy="2072" r="4.5" fill="#0000ff"/>
<circle cx="745" cy="2044" r="4.5" fill="#0000ff"/>
<circle cx="745" cy="2016" r="4.5" fill="#0000ff"/>
<circle cx="745" cy="1988" r="4.5" fill="#0000ff"/>
<circle cx="745" cy="1960" r="4.5" fill="#0000ff"/>
<path d="M745,1958 L898,1958" fill="none" stroke="#0000ff" stroke-width="10" stroke-linecap="round" stroke-linejoin="round"/>
<path d="M898,1958 L990,1958" fill="none" stroke="#ff9000" stroke-width="10" stroke-linecap="round" stroke-linejoin="round"/>
<path d="M363.7,2562.1 L370,2557.3 L376.2,2552.4 L382.5,2547.3 L388.7,2542.2 L395,2536.9 L401.3,2531.6 L407.5,2526.2 L413.8,2520.6 L420,2515 L426.3,2509.3 L432.6,2503.5 L438.8,2497.7 L445.1,2491.7 L451.3,2485.7 L457.6,2479.6 L463.8,2473.4 L470.1,2467.1 L476.4,2460.8 L482.6,2454.4 L488.9,2447.9 L495.1,2441.4 L501.4,2434.8 L507.7,2428.2 L513.9,2421.5 L520.2,2414.7 L526.4,2407.9 L532.7,2401.1 L539,2394.2 L545.2,2387.3 L551.5,2380.3 L557.7,2373.3 L564,2366.2 L570.3,2359.1 L576.5,2352 L582.8,2344.8 L589,2337.7 L595.3,2330.4 L601.6,2323.2 L607.8,2316 L614.1,2308.7 L620.3,2301.4 L626.6,2294.1 L632.9,2286.8 L639.1,2279.5 L645.4,2272.2 L651.6,2264.8 L657.9,2257.5 L664.1,2250.2 L670.4,2242.9 L676.7,2235.5 L682.9,2228.2 L689.2,2220.9 L695.4,2213.6 L701.7,2206.4 L708,2199.1 L714.2,2191.9 L720.5,2184.6 L726.7,2177.4 L733,2170.3" fill="none" stroke="#c020ff" stroke-width="10" stroke-linecap="round" stroke-linejoin="round"/>
<line x1="737" y1="2170" x2="737" y2="2079" stroke="#c020ff" stroke-width="4.5" stroke-opacity="0.8"/>
<circle cx="737" cy="2170" r="4.5" fill="#c020ff"/>
<circle cx="737" cy="2139.7" r="4.5" fill="#c020ff"/>
<circle cx="737" cy="2109.3" r="4.5" fill="#c020ff"/>
<circle cx="737" cy="2079" r="4.5" fill="#c020ff"/>
<path d="M737,2079 L737.3,2072.8 L737.4,2066.4 L738.1,2060.4 L739.6,2054.9 L741.9,2049.8 L745,2045.2 L748.9,2041.2 L753.7,2037.6 L759,2034.3 L764.7,2031.2 L770.3,2028 L775.9,2024.8 L781.2,2021.5 L786.4,2018.1 L791.6,2014.6 L796.8,2011.1 L802,2007.7 L807.4,2004.3 L812.7,2001 L818.1,1997.9 L823.4,1994.9 L828.8,1992.1 L834.3,1989.3 L839.8,1986.6 L845.4,1984 L851,1981.6 L856.7,1979.3 L862.4,1977.2 L868.2,1975.3 L874.1,1973.7 L880,1972.3 L886.1,1971.1 L892.2,1970.1 L898.3,1969.2 L904.5,1968.5 L910.6,1967.7 L916.8,1967 L923.1,1966.2 L929.4,1965.4 L935.7,1964.4 L942.2,1963.5 L948.6,1962.5 L955,1961.5 L961.2,1960.6 L967.3,1959.8 L973.2,1959.1 L979.1,1958.5 L984.9,1958.1 L990.9,1957.9 L997,1957.9 L1000,1958" fill="none" stroke="#c020ff" stroke-width="10" stroke-linecap="round" stroke-linejoin="round"/>
<path d="M359,2700.8 L365.2,2699.9 L371.4,2698.9 L377.6,2698 L383.9,2697.1 L390.1,2696.3 L396.3,2695.4 L402.5,2694.6 L408.7,2693.8 L414.9,2692.9 L421.2,2692.1 L427.4,2691.3 L433.6,2690.5 L439.8,2689.7 L446,2688.8 L452.2,2688 L458.4,2687.1 L464.7,2686.2 L470.9,2685.2 L477.1,2684.3 L483.3,2683.3 L489.5,2682.2 L495.7,2681.2 L502,2680 L508.2,2678.9 L514.4,2677.6 L520.6,2676.3 L526.8,2675 L533,2673.5 L539.2,2672.1 L545.5,2670.5 L551.7,2668.8 L557.9,2667.1 L564.1,2665.3 L570.3,2663.4 L576.5,2661.4 L582.7,2659.3 L589,2657.1 L595.2,2654.8 L601.4,2652.4 L607.6,2649.9 L613.8,2647.2 L620,2644.5 L626.3,2641.6 L632.5,2638.6 L638.7,2635.5 L644.9,2632.2 L651.1,2628.8 L657.3,2625.2 L663.5,2621.5 L669.8,2617.6 L676,2613.6 L682.2,2609.5 L688.4,2605.1 L694.6,2600.6 L700.8,2595.9 L707.1,2591.1 L713.3,2586.1 L719.5,2580.9 L725.7,2575.5" fill="none" stroke="#000000" stroke-width="10" stroke-linecap="round" stroke-linejoin="round"/>
<line x1="729" y1="2575" x2="729" y2="2441.6" stroke="#000000" stroke-width="4.5" stroke-opacity="0.8"/>
<circle cx="729" cy="2575" r="4.5" fill="#000000"/>
<circle cx="729" cy="2541.7" r="4.5" fill="#000000"/>
<circle cx="729" cy="2508.3" r="4.5" fill="#000000"/>
<circle cx="729" cy="2474.9" r="4.5" fill="#000000"/>
<circle cx="729" cy="2441.6" r="4.5" fill="#000000"/>
<path d="M729,2441.6 L733,2436.2 L737,2430.8 L740.9,2425.6 L744.9,2420.5 L748.7,2415.5 L752.5,2410.5 L756.1,2405.5 L759.6,2400.4 L762.7,2395.1 L765.7,2389.5 L768.4,2383.8 L770.9,2378 L773.3,2372 L775.7,2366.1 L778,2360.2 L780.2,2354.3 L782.5,2348.5 L784.6,2342.7 L786.8,2336.9 L788.8,2331 L790.7,2325.1 L792.6,2319.2 L794.3,2313.3 L796,2307.3 L797.6,2301.2 L799.2,2295.2 L800.7,2289.1 L802.2,2283.1 L803.7,2277.1 L805.1,2271.1 L806.6,2265.2 L808,2259.3 L809.4,2253.3 L810.8,2247.3 L812.2,2241.3 L813.7,2235.2 L815.1,2229.2 L816.6,2223.1 L818.1,2217 L819.6,2210.8 L821.1,2204.6 L822.6,2198.4 L824.1,2192.2 L825.5,2186.1 L826.9,2180.1 L828.3,2174.1 L829.7,2168.1 L831,2162.2 L832.3,2156.3 L833.6,2150.5 L834.8,2144.6 L836.1,2138.7 L837.4,2132.8 L838.6,2126.8 L839.8,2120.8 L841.1,2114.7 L842.3,2108.6 L843.6,2102.5 L844.9,2096.4 L846.3,2090.4 L847.8,2084.3 L849.4,2078.3 L851.2,2072.3 L853.1,2066.2 L855.2,2060.2 L857.4,2054.3 L859.7,2048.5 L862.1,2042.8 L864.7,2037.1 L867.5,2031.6 L870.4,2026.1 L873.6,2020.8 L877,2015.5 L880.6,2010.4 L884.5,2005.3 L888.6,2000.5 L892.9,1995.8 L897.3,1991.3 L901.9,1987.1 L906.6,1983.2 L911.6,1979.7 L916.7,1976.5 L922,1973.6 L927.5,1971.1 L933.2,1968.8 L939,1966.8 L945,1965.1 L951,1963.5 L957.2,1962.3 L963.4,1961.3 L969.6,1960.5 L975.7,1959.9 L981.8,1959.4 L987.8,1959.1 L993.7,1958.9 L1000,1959" fill="none" stroke="#000000" stroke-width="10" stroke-linecap="round" stroke-linejoin="round"/>
<path d="M1000,1960 L1141,1960" fill="none" stroke="#000000" stroke-width="10" stroke-linecap="round" stroke-linejoin="round"/>
<line x1="351.4" y1="2067.8" x2="601.5" y2="2684.5" stroke="#8a8a8a" stroke-width="3"/>
<polygon points="606,2695.6 592,2679.7 605,2674.4" fill="#222"/>
<line x1="771.4" y1="3098" x2="771.4" y2="2922" stroke="#ff0000" stroke-width="4.5" stroke-opacity="0.85"/>
<circle cx="771.4" cy="3098" r="4.5" fill="#ff0000"/>
<circle cx="771.4" cy="3068.7" r="4.5" fill="#ff0000"/>
<circle cx="771.4" cy="3039.3" r="4.5" fill="#ff0000"/>
<circle cx="771.4" cy="3010" r="4.5" fill="#ff0000"/>
<circle cx="771.4" cy="2980.7" r="4.5" fill="#ff0000"/>
<circle cx="771.4" cy="2951.3" r="4.5" fill="#ff0000"/>
<circle cx="771.4" cy="2922" r="4.5" fill="#ff0000"/>
<line x1="764.5" y1="3098" x2="764.5" y2="2915" stroke="#ff9000" stroke-width="4.5" stroke-opacity="0.85"/>
<circle cx="764.5" cy="3098" r="4.5" fill="#ff9000"/>
<circle cx="764.5" cy="3067.5" r="4.5" fill="#ff9000"/>
<circle cx="764.5" cy="3037" r="4.5" fill="#ff9000"/>
<circle cx="764.5" cy="3006.5" r="4.5" fill="#ff9000"/>
<circle cx="764.5" cy="2976" r="4.5" fill="#ff9000"/>
<circle cx="764.5" cy="2945.5" r="4.5" fill="#ff9000"/>
<circle cx="764.5" cy="2915" r="4.5" fill="#ff9000"/>
<line x1="755" y1="3090" x2="755" y2="2912" stroke="#007a30" stroke-width="4.5" stroke-opacity="0.85"/>
<circle cx="755" cy="3090" r="4.5" fill="#007a30"/>
<circle cx="755" cy="3060.3" r="4.5" fill="#007a30"/>
<circle cx="755" cy="3030.7" r="4.5" fill="#007a30"/>
<circle cx="755" cy="3001" r="4.5" fill="#007a30"/>
<circle cx="755" cy="2971.3" r="4.5" fill="#007a30"/>
<circle cx="755" cy="2941.7" r="4.5" fill="#007a30"/>
<circle cx="755" cy="2912" r="4.5" fill="#007a30"/>
<line x1="745" y1="3095" x2="745" y2="2912" stroke="#0000ff" stroke-width="4.5" stroke-opacity="0.85"/>
<circle cx="745" cy="3095" r="4.5" fill="#0000ff"/>
<circle cx="745" cy="3064.5" r="4.5" fill="#0000ff"/>
<circle cx="745" cy="3034" r="4.5" fill="#0000ff"/>
<circle cx="745" cy="3003.5" r="4.5" fill="#0000ff"/>
<circle cx="745" cy="2973" r="4.5" fill="#0000ff"/>
<circle cx="745" cy="2942.5" r="4.5" fill="#0000ff"/>
<circle cx="745" cy="2912" r="4.5" fill="#0000ff"/>
<path d="M359,3090 L364.8,3089.4 L370.7,3088.8 L376.4,3088.4 L382,3088 L387.6,3087.8 L393.3,3087.5 L399.1,3087.4 L405.1,3087.2 L411,3087.1 L416.6,3087.1 L421.6,3087 L426,3087 L430.1,3086.9 L434,3086.9 L437.9,3086.9 L442,3086.9 L446.2,3086.9 L450.6,3086.8 L455.2,3086.8 L459.9,3086.8 L464.7,3086.8 L469.7,3086.8 L474.9,3086.8 L480.2,3086.8 L485.6,3086.8 L491.1,3086.9 L496.8,3086.9 L502.6,3086.9 L508.5,3086.9 L514.5,3086.9 L520.5,3086.9 L526.7,3086.9 L533,3087 L539.4,3087 L545.8,3087 L552.3,3087 L558.9,3087.1 L565.5,3087.1 L572.2,3087.1 L578.9,3087.2 L585.7,3087.2 L592.6,3087.2 L599.4,3087.2 L606.3,3087.3 L613.3,3087.3 L620.2,3087.3 L627.2,3087.4 L634.1,3087.4 L641.1,3087.4 L648.1,3087.5 L655.1,3087.5 L662,3087.5 L669,3087.6 L675.9,3087.6 L682.8,3087.6 L689.7,3087.7 L696.5,3087.7 L703.3,3087.7 L710.1,3087.8 L716.7,3087.8 L723.4,3087.8 L730,3087.9 L736.5,3087.9 L742.9,3087.9 L749.3,3087.9 L755.6,3088 L761.8,3088 L768,3088 L771,3088" fill="none" stroke="#ff0000" stroke-width="10" stroke-linecap="round" stroke-linejoin="round"/>
<path d="M359,3095 L365.4,3093.7 L371.8,3092.4 L378.1,3091.3 L384.2,3090.5 L390.2,3089.8 L396.1,3089.2 L402.1,3088.8 L408.1,3088.5 L413.8,3088.2 L419,3088.1 L423.7,3087.9 L427.8,3087.9 L431.7,3087.8 L435.6,3087.7 L439.6,3087.7 L443.7,3087.6 L448,3087.6 L452.5,3087.6 L457.1,3087.5 L461.9,3087.5 L466.9,3087.5 L472,3087.5 L477.2,3087.5 L482.7,3087.5 L488.2,3087.5 L493.9,3087.5 L499.7,3087.5 L505.6,3087.5 L511.6,3087.5 L517.7,3087.6 L524,3087.6 L530.3,3087.6 L536.7,3087.6 L543.2,3087.7 L549.8,3087.7 L556.4,3087.7 L563.1,3087.8 L569.9,3087.8 L576.7,3087.9 L583.6,3087.9 L590.5,3087.9 L597.5,3088 L604.5,3088 L611.5,3088.1 L618.5,3088.1 L625.6,3088.2 L632.6,3088.2 L639.7,3088.3 L646.8,3088.3 L653.8,3088.4 L660.9,3088.4 L667.9,3088.5 L674.9,3088.5 L681.8,3088.6 L688.7,3088.6 L695.6,3088.7 L702.4,3088.7 L709.2,3088.7 L715.9,3088.8 L722.6,3088.8 L729.2,3088.9 L735.7,3088.9 L742.1,3088.9 L748.5,3088.9 L754.8,3089 L761,3089 L764,3089" fill="none" stroke="#ff9000" stroke-width="10" stroke-linecap="round" stroke-linejoin="round"/>
<path d="M359,3112 L364.3,3108.5 L369.5,3104.9 L374.9,3101.4 L380.4,3097.9 L386.1,3094.4 L391.8,3091.2 L397.7,3088.3 L403.8,3086 L409.9,3084.3 L416.1,3083.4 L422.3,3083.3 L428.5,3083.6 L434.4,3084.1 L440,3084.7 L445.2,3085.1 L450.1,3085.5 L454.9,3085.7 L459.8,3086 L464.9,3086.1 L470.3,3086.3 L475.9,3086.5 L481.8,3086.6 L487.8,3086.7 L494,3086.9 L500.4,3087 L506.9,3087.1 L513.5,3087.2 L520.2,3087.3 L527,3087.3 L533.8,3087.4 L540.7,3087.5 L547.5,3087.6 L554.3,3087.6 L561.1,3087.7 L567.8,3087.7 L574.5,3087.8 L581,3087.8 L587.4,3087.9 L593.7,3087.9 L599.9,3088 L606.1,3088 L612.2,3088.1 L618.3,3088.1 L624.4,3088.1 L630.5,3088.2 L636.6,3088.2 L642.7,3088.2 L648.8,3088.2 L654.9,3088.2 L661,3088.2 L667,3088.2 L673.1,3088.2 L679.2,3088.2 L685.2,3088.2 L691.3,3088.1 L697.4,3088.1 L703.4,3088.1 L709.5,3088.1 L715.6,3088.1 L721.6,3088.1 L727.7,3088 L733.7,3088 L739.8,3088 L745.9,3088 L752,3088 L755,3088" fill="none" stroke="#007a30" stroke-width="10" stroke-linecap="round" stroke-linejoin="round"/>
<path d="M363,3177 L366.4,3171.7 L369.8,3166.4 L373.1,3161 L376.5,3155.6 L379.7,3150.1 L382.9,3144.7 L386.1,3139.2 L389.2,3133.7 L392.3,3128.2 L395.5,3122.7 L398.7,3117.3 L402.1,3111.8 L405.7,3106.6 L409.5,3101.9 L413.7,3098 L418.4,3095.3 L423.6,3093.8 L429,3093.2 L434.6,3093.3 L440,3093.6 L445,3094 L449.8,3094.2 L454.5,3094.4 L459.4,3094.5 L464.5,3094.6 L469.9,3094.7 L475.5,3094.7 L481.4,3094.8 L487.4,3094.8 L493.7,3094.8 L500.1,3094.8 L506.7,3094.9 L513.4,3094.9 L520.1,3094.9 L527,3094.9 L533.8,3094.9 L540.7,3094.9 L547.6,3094.9 L554.5,3094.9 L561.3,3094.9 L568,3094.9 L574.6,3094.9 L581.1,3094.9 L587.5,3095 L593.8,3095 L600,3095 L606.2,3095 L612.3,3095.1 L618.4,3095.1 L624.5,3095.2 L630.6,3095.2 L636.7,3095.2 L642.8,3095.3 L648.8,3095.3 L654.9,3095.4 L660.9,3095.4 L666.9,3095.5 L672.9,3095.5 L678.9,3095.5 L684.9,3095.6 L690.9,3095.6 L696.9,3095.7 L702.9,3095.7 L708.9,3095.7 L714.9,3095.8 L720.9,3095.8 L726.9,3095.9 L732.9,3095.9 L739,3096 L745,3096" fill="none" stroke="#0000ff" stroke-width="10" stroke-linecap="round" stroke-linejoin="round"/>
<path d="M363,3366 L366.4,3360.8 L369.8,3355.7 L373.1,3350.4 L376.2,3345 L379,3339.4 L381.6,3333.6 L383.9,3327.7 L385.9,3321.6 L387.8,3315.4 L389.5,3309.2 L391.2,3303 L392.8,3296.9 L394.3,3290.7 L395.8,3284.6 L397.3,3278.5 L398.8,3272.4 L400.3,3266.4 L401.8,3260.3 L403.3,3254.2 L404.8,3248 L406.4,3241.7 L408,3235.3 L409.6,3229 L411.3,3222.7 L413,3216.5 L414.7,3210.3 L416.5,3204.2 L418.3,3198.1 L420.2,3192.1 L422.2,3186.2 L424.2,3180.5 L426.5,3174.9 L429,3169.3 L431.9,3163.8 L435.2,3158.3 L438.9,3153 L443,3148 L447.4,3143.2 L452.2,3138.7 L457.3,3134.6 L462.7,3130.9 L468.2,3127.5 L473.8,3124.6 L479.4,3122 L485.1,3119.8 L490.8,3117.9 L496.6,3116.3 L502.4,3114.8 L508.3,3113.5 L514.2,3112.3 L520.1,3111.1 L525.9,3110 L531.8,3108.9 L537.8,3107.9 L544,3106.9 L550.2,3105.9 L556.5,3105 L562.9,3104.1 L569.2,3103.2 L575.5,3102.5 L581.7,3101.8 L587.9,3101.2 L594.1,3100.6 L600.3,3100.2 L606.4,3099.8 L612.6,3099.5 L618.7,3099.3 L624.8,3099.1 L631,3098.9 L637.2,3098.8 L643.4,3098.6 L649.5,3098.5 L655.6,3098.4 L661.7,3098.3 L667.7,3098.3 L673.8,3098.2 L679.9,3098.2 L686.1,3098.1 L692.3,3098.1 L698.5,3098.1 L704.8,3098.1 L711,3098.1 L717.3,3098.1 L723.5,3098 L729.7,3098 L732.8,3098" fill="none" stroke="#9030f0" stroke-width="10" stroke-linecap="round" stroke-linejoin="round"/>
<line x1="734" y1="3098" x2="734" y2="2912" stroke="#9030f0" stroke-width="6" stroke-opacity="0.9"/>
<circle cx="734" cy="3098" r="4.5" fill="#9030f0"/>
<circle cx="734" cy="3067" r="4.5" fill="#9030f0"/>
<circle cx="734" cy="3036" r="4.5" fill="#9030f0"/>
<circle cx="734" cy="3005" r="4.5" fill="#9030f0"/>
<circle cx="734" cy="2974" r="4.5" fill="#9030f0"/>
<circle cx="734" cy="2943" r="4.5" fill="#9030f0"/>
<circle cx="734" cy="2912" r="4.5" fill="#9030f0"/>
<path d="M734,2914 L738,2908 L743.8,2906 L800,2906 L1141,2907" fill="none" stroke="#9030f0" stroke-width="10" stroke-linecap="round" stroke-linejoin="round"/>
<path d="M817,2904 L895,2904" fill="none" stroke="#ff9000" stroke-width="6" stroke-linecap="round" stroke-linejoin="round"/>
<path d="M363,3671.6 L369.3,3667.2 L375.5,3661.3 L381.8,3654.1 L388.1,3645.9 L394.4,3636.7 L400.6,3626.7 L406.9,3616.1 L413.2,3605 L419.4,3593.4 L425.7,3581.4 L432,3569.2 L438.3,3556.9 L444.5,3544.5 L450.8,3532 L457.1,3519.5 L463.3,3507.1 L469.6,3494.9 L475.9,3482.7 L482.2,3470.8 L488.4,3459 L494.7,3447.5 L501,3436.1 L507.2,3425 L513.5,3414.2 L519.8,3403.5 L526.1,3393.1 L532.3,3383 L538.6,3373 L544.9,3363.3 L551.1,3353.7 L557.4,3344.3 L563.7,3335.1 L569.9,3326.1 L576.2,3317.2 L582.5,3308.4 L588.8,3299.7 L595,3291.2 L601.3,3282.7 L607.6,3274.3 L613.8,3266 L620.1,3257.8 L626.4,3249.7 L632.7,3241.6 L638.9,3233.7 L645.2,3225.9 L651.5,3218.2 L657.7,3210.7 L664,3203.5 L670.3,3196.4 L676.6,3189.6 L682.8,3183.2 L689.1,3177.1 L695.4,3171.6 L701.6,3166.6 L707.9,3162.2 L714.2,3158.5 L720.5,3155.7 L726.7,3153.8 L733,3153" fill="none" stroke="#000000" stroke-width="10" stroke-linecap="round" stroke-linejoin="round"/>
<line x1="732.8" y1="3153" x2="732.8" y2="2952" stroke="#000000" stroke-width="4.5" stroke-opacity="0.85"/>
<circle cx="732.8" cy="3153" r="4.5" fill="#000000"/>
<circle cx="732.8" cy="3124.3" r="4.5" fill="#000000"/>
<circle cx="732.8" cy="3095.6" r="4.5" fill="#000000"/>
<circle cx="732.8" cy="3066.9" r="4.5" fill="#000000"/>
<circle cx="732.8" cy="3038.1" r="4.5" fill="#000000"/>
<circle cx="732.8" cy="3009.4" r="4.5" fill="#000000"/>
<circle cx="732.8" cy="2980.7" r="4.5" fill="#000000"/>
<circle cx="732.8" cy="2952" r="4.5" fill="#000000"/>
<path d="M732.8,2952 L738.7,2950.7 L744.7,2949.5 L750.7,2948.1 L756.7,2946.8 L762.7,2945.4 L768.7,2943.9 L774.7,2942.4 L780.8,2940.9 L787,2939.4 L793.3,2937.8 L799.7,2936.2 L806,2934.7 L812.3,2933.3 L818.5,2931.8 L824.7,2930.5 L830.9,2929.2 L837,2927.9 L843.2,2926.7 L849.3,2925.5 L855.4,2924.3 L861.6,2923.1 L867.7,2922 L873.8,2920.8 L879.9,2919.6 L886,2918.5 L892.1,2917.3 L898.2,2916.2 L904.4,2915.2 L910.5,2914.1 L916.6,2913.2 L922.8,2912.3 L928.9,2911.5 L935,2910.9 L941.1,2910.3 L947.2,2909.7 L953.3,2909.3 L959.4,2908.8 L965.5,2908.4 L971.7,2908 L977.8,2907.6 L983.9,2907.2 L987,2907" fill="none" stroke="#000000" stroke-width="10" stroke-linecap="round" stroke-linejoin="round"/>
<path d="M987,2907 L1141,2907" fill="none" stroke="#000000" stroke-width="10" stroke-linecap="round" stroke-linejoin="round"/>
<line x1="352" y1="3075.8" x2="517.2" y2="3412.5" stroke="#8a8a8a" stroke-width="3"/>
<polygon points="522.5,3423.3 507.4,3408.4 520,3402.3" fill="#222"/>
<line x1="772.3" y1="4198" x2="772.3" y2="3760" stroke="#ff0000" stroke-width="4" stroke-opacity="0.55"/>
<circle cx="772.3" cy="4198" r="3.5" fill="#ff0000"/>
<circle cx="772.3" cy="4149.3" r="3.5" fill="#ff0000"/>
<circle cx="772.3" cy="4100.7" r="3.5" fill="#ff0000"/>
<circle cx="772.3" cy="4052" r="3.5" fill="#ff0000"/>
<circle cx="772.3" cy="4003.3" r="3.5" fill="#ff0000"/>
<circle cx="772.3" cy="3954.7" r="3.5" fill="#ff0000"/>
<circle cx="772.3" cy="3906" r="3.5" fill="#ff0000"/>
<circle cx="772.3" cy="3857.3" r="3.5" fill="#ff0000"/>
<circle cx="772.3" cy="3808.7" r="3.5" fill="#ff0000"/>
<circle cx="772.3" cy="3760" r="3.5" fill="#ff0000"/>
<line x1="762" y1="4198" x2="762" y2="3760" stroke="#ff9000" stroke-width="4" stroke-opacity="0.55"/>
<circle cx="762" cy="4198" r="3.5" fill="#ff9000"/>
<circle cx="762" cy="4149.3" r="3.5" fill="#ff9000"/>
<circle cx="762" cy="4100.7" r="3.5" fill="#ff9000"/>
<circle cx="762" cy="4052" r="3.5" fill="#ff9000"/>
<circle cx="762" cy="4003.3" r="3.5" fill="#ff9000"/>
<circle cx="762" cy="3954.7" r="3.5" fill="#ff9000"/>
<circle cx="762" cy="3906" r="3.5" fill="#ff9000"/>
<circle cx="762" cy="3857.3" r="3.5" fill="#ff9000"/>
<circle cx="762" cy="3808.7" r="3.5" fill="#ff9000"/>
<circle cx="762" cy="3760" r="3.5" fill="#ff9000"/>
<line x1="751.8" y1="4198" x2="751.8" y2="3760" stroke="#007a30" stroke-width="4" stroke-opacity="0.55"/>
<circle cx="751.8" cy="4198" r="3.5" fill="#007a30"/>
<circle cx="751.8" cy="4149.3" r="3.5" fill="#007a30"/>
<circle cx="751.8" cy="4100.7" r="3.5" fill="#007a30"/>
<circle cx="751.8" cy="4052" r="3.5" fill="#007a30"/>
<circle cx="751.8" cy="4003.3" r="3.5" fill="#007a30"/>
<circle cx="751.8" cy="3954.7" r="3.5" fill="#007a30"/>
<circle cx="751.8" cy="3906" r="3.5" fill="#007a30"/>
<circle cx="751.8" cy="3857.3" r="3.5" fill="#007a30"/>
<circle cx="751.8" cy="3808.7" r="3.5" fill="#007a30"/>
<circle cx="751.8" cy="3760" r="3.5" fill="#007a30"/>
<line x1="744.3" y1="4198" x2="744.3" y2="3760" stroke="#0000ff" stroke-width="4" stroke-opacity="0.55"/>
<circle cx="744.3" cy="4198" r="3.5" fill="#0000ff"/>
<circle cx="744.3" cy="4149.3" r="3.5" fill="#0000ff"/>
<circle cx="744.3" cy="4100.7" r="3.5" fill="#0000ff"/>
<circle cx="744.3" cy="4052" r="3.5" fill="#0000ff"/>
<circle cx="744.3" cy="4003.3" r="3.5" fill="#0000ff"/>
<circle cx="744.3" cy="3954.7" r="3.5" fill="#0000ff"/>
<circle cx="744.3" cy="3906" r="3.5" fill="#0000ff"/>
<circle cx="744.3" cy="3857.3" r="3.5" fill="#0000ff"/>
<circle cx="744.3" cy="3808.7" r="3.5" fill="#0000ff"/>
<circle cx="744.3" cy="3760" r="3.5" fill="#0000ff"/>
<line x1="739.7" y1="4198" x2="739.7" y2="3760" stroke="#c020ff" stroke-width="4" stroke-opacity="0.55"/>
<circle cx="739.7" cy="4198" r="3.5" fill="#c020ff"/>
<circle cx="739.7" cy="4149.3" r="3.5" fill="#c020ff"/>
<circle cx="739.7" cy="4100.7" r="3.5" fill="#c020ff"/>
<circle cx="739.7" cy="4052" r="3.5" fill="#c020ff"/>
<circle cx="739.7" cy="4003.3" r="3.5" fill="#c020ff"/>
<circle cx="739.7" cy="3954.7" r="3.5" fill="#c020ff"/>
<circle cx="739.7" cy="3906" r="3.5" fill="#c020ff"/>
<circle cx="739.7" cy="3857.3" r="3.5" fill="#c020ff"/>
<circle cx="739.7" cy="3808.7" r="3.5" fill="#c020ff"/>
<circle cx="739.7" cy="3760" r="3.5" fill="#c020ff"/>
<line x1="734" y1="4198" x2="734" y2="3760" stroke="#000000" stroke-width="4" stroke-opacity="0.55"/>
<circle cx="734" cy="4198" r="3.5" fill="#000000"/>
<circle cx="734" cy="4149.3" r="3.5" fill="#000000"/>
<circle cx="734" cy="4100.7" r="3.5" fill="#000000"/>
<circle cx="734" cy="4052" r="3.5" fill="#000000"/>
<circle cx="734" cy="4003.3" r="3.5" fill="#000000"/>
<circle cx="734" cy="3954.7" r="3.5" fill="#000000"/>
<circle cx="734" cy="3906" r="3.5" fill="#000000"/>
<circle cx="734" cy="3857.3" r="3.5" fill="#000000"/>
<circle cx="734" cy="3808.7" r="3.5" fill="#000000"/>
<circle cx="734" cy="3760" r="3.5" fill="#000000"/>
<path d="M359,4209 L364.5,4205.9 L370.6,4203.5 L375.9,4201.9 L380.9,4200.8 L385.6,4200 L390.1,4199.6 L394.7,4199.3 L399.5,4199.1 L404.6,4199 L410.1,4199 L415.9,4199 L422,4199 L428.3,4199.1 L434.9,4199.2 L441.7,4199.3 L448.7,4199.4 L455.9,4199.5 L463.1,4199.6 L470.4,4199.7 L477.6,4199.8 L484.8,4199.9 L491.6,4199.9 L498.1,4200 L504,4200 L509.6,4200 L515,4200 L520.2,4200 L525.5,4200 L530.9,4200 L536.3,4200 L541.9,4200 L547.5,4200 L553.1,4200 L558.9,4200 L564.7,4200 L570.6,4200 L576.6,4200 L582.6,4200 L588.6,4200 L594.7,4200 L600.9,4200 L607.1,4200 L613.4,4200 L619.6,4200 L626,4200 L632.3,4200 L638.7,4200 L645.1,4200 L651.5,4200 L657.9,4200 L664.3,4200 L670.8,4200 L677.2,4200 L683.7,4200 L690.1,4200 L696.6,4200 L703,4200 L709.4,4200 L715.8,4200 L722.2,4200 L728.5,4200 L734.8,4200 L741.1,4200 L747.4,4200 L753.6,4200 L759.8,4200 L765.9,4200 L772,4200" fill="none" stroke="#ff0000" stroke-width="10" stroke-linecap="round" stroke-linejoin="round"/>
<path d="M359,4234 L362,4228.4 L365.1,4223 L368.7,4217.8 L372.8,4213.2 L377,4209.2 L381.4,4205.9 L385.8,4203.3 L390.3,4201.5 L394.8,4200.3 L399.4,4199.5 L404.2,4199 L409.4,4198.6 L414.9,4198.4 L420.7,4198.4 L426.7,4198.4 L433,4198.5 L439.6,4198.6 L446.3,4198.8 L453.2,4199 L460.2,4199.2 L467.3,4199.5 L474.4,4199.6 L481.5,4199.8 L488.4,4199.9 L495,4199.9 L501.1,4199.9 L506.9,4199.9 L512.3,4199.9 L517.6,4199.8 L522.9,4199.8 L528.2,4199.8 L533.6,4199.7 L539.1,4199.7 L544.6,4199.7 L550.3,4199.6 L556,4199.6 L561.8,4199.6 L567.7,4199.5 L573.6,4199.5 L579.6,4199.5 L585.6,4199.5 L591.7,4199.4 L597.8,4199.4 L604,4199.4 L610.3,4199.4 L616.5,4199.4 L622.8,4199.4 L629.2,4199.3 L635.5,4199.3 L641.9,4199.3 L648.3,4199.3 L654.7,4199.3 L661.1,4199.3 L667.5,4199.3 L673.9,4199.2 L680.4,4199.2 L686.8,4199.2 L693.2,4199.2 L699.6,4199.2 L705.9,4199.2 L712.3,4199.1 L718.6,4199.1 L724.9,4199.1 L731.2,4199.1 L737.4,4199.1 L743.6,4199.1 L749.8,4199 L755.9,4199 L762,4199" fill="none" stroke="#ff9000" stroke-width="10" stroke-linecap="round" stroke-linejoin="round"/>
<path d="M359,4310.6 L361.2,4304.6 L363.3,4298.5 L365.5,4292.4 L367.7,4286.5 L369.8,4280.5 L371.9,4274.7 L374.1,4268.9 L376.2,4263.1 L378.3,4257.3 L380.5,4251.5 L382.8,4245.6 L385,4239.7 L387.3,4233.8 L389.7,4227.8 L392.1,4222 L394.8,4216.4 L397.7,4211.4 L401.2,4207.1 L405.4,4203.7 L410.2,4201.2 L415.4,4199.5 L420.8,4198.4 L426.1,4197.8 L431.4,4197.4 L436.7,4197.2 L442.2,4197 L448,4196.9 L454.1,4196.9 L460.5,4196.9 L467.2,4196.9 L474.1,4197 L481,4197 L487.9,4197 L494.4,4197 L500.5,4197 L506.1,4197 L511.2,4196.9 L516.2,4196.9 L521.2,4196.9 L526.3,4196.9 L531.5,4196.9 L536.8,4196.9 L542.2,4196.9 L547.7,4196.8 L553.3,4196.8 L559,4196.8 L564.8,4196.8 L570.7,4196.8 L576.7,4196.8 L582.8,4196.8 L588.9,4196.8 L595.1,4196.8 L601.4,4196.8 L607.7,4196.9 L614.1,4196.9 L620.5,4196.9 L626.9,4196.9 L633.4,4196.9 L639.9,4196.9 L646.4,4196.9 L653,4196.9 L659.5,4196.9 L666.1,4196.9 L672.6,4196.9 L679.1,4196.9 L685.7,4196.9 L692.2,4197 L698.6,4197 L705.1,4197 L711.5,4197 L717.9,4197 L724.2,4197 L730.5,4197 L736.7,4197 L742.9,4197 L749,4197 L752,4197" fill="none" stroke="#007a30" stroke-width="10" stroke-linecap="round" stroke-linejoin="round"/>
<path d="M361,4390 L362.2,4383.9 L363.4,4377.9 L364.6,4371.9 L365.8,4365.8 L367,4359.8 L368.2,4353.7 L369.4,4347.7 L370.6,4341.6 L371.9,4335.5 L373.1,4329.4 L374.3,4323.3 L375.6,4317.2 L376.8,4311.1 L378,4305 L379.2,4298.8 L380.5,4292.6 L381.7,4286.4 L383,4280.2 L384.3,4274.1 L385.5,4268 L386.8,4262.1 L388.1,4256.3 L389.5,4250.5 L390.8,4244.7 L392.3,4238.8 L393.8,4232.7 L395.3,4226.5 L397,4220.5 L398.9,4214.8 L401.2,4209.7 L404,4205.3 L407.4,4201.9 L411.6,4199.3 L416.3,4197.6 L421.2,4196.4 L426.2,4195.8 L431.3,4195.4 L436.5,4195.2 L442,4195.1 L447.8,4195 L453.9,4195.1 L460.4,4195.1 L467.1,4195.2 L474,4195.3 L481,4195.4 L487.9,4195.4 L494.5,4195.5 L500.6,4195.5 L506.2,4195.5 L511.4,4195.5 L516.5,4195.4 L521.5,4195.4 L526.7,4195.4 L531.9,4195.4 L537.3,4195.4 L542.7,4195.4 L548.3,4195.4 L554,4195.3 L559.8,4195.3 L565.7,4195.3 L571.7,4195.3 L577.7,4195.3 L583.8,4195.3 L590,4195.3 L596.3,4195.3 L602.6,4195.2 L609,4195.2 L615.4,4195.2 L621.8,4195.2 L628.3,4195.2 L634.8,4195.2 L641.4,4195.2 L647.9,4195.2 L654.5,4195.2 L661,4195.1 L667.6,4195.1 L674.1,4195.1 L680.7,4195.1 L687.2,4195.1 L693.7,4195.1 L700.1,4195.1 L706.5,4195.1 L712.9,4195.1 L719.2,4195 L725.5,4195 L731.7,4195 L737.9,4195 L744,4195" fill="none" stroke="#0000ff" stroke-width="10" stroke-linecap="round" stroke-linejoin="round"/>
<path d="M363,4510 L363.9,4503.9 L364.8,4497.8 L365.8,4491.8 L366.7,4485.8 L367.6,4479.8 L368.5,4473.8 L369.4,4467.7 L370.3,4461.6 L371.3,4455.4 L372.2,4449.2 L373.1,4443 L374,4436.8 L374.9,4430.7 L375.7,4424.7 L376.6,4418.7 L377.4,4412.8 L378.3,4406.9 L379.1,4400.9 L379.9,4394.9 L380.8,4388.8 L381.6,4382.7 L382.4,4376.5 L383.3,4370.4 L384.1,4364.3 L384.9,4358.2 L385.7,4352.1 L386.5,4346.1 L387.3,4340.1 L388.1,4334.2 L388.9,4328.3 L389.7,4322.3 L390.5,4316.1 L391.3,4309.8 L392.1,4303.4 L392.9,4296.9 L393.7,4290.4 L394.4,4284 L395.2,4277.7 L396,4271.5 L396.7,4265.5 L397.4,4259.5 L398.2,4253.6 L398.9,4247.7 L399.6,4241.7 L400.3,4235.4 L401,4228.9 L401.8,4222.5 L402.9,4216.3 L404.4,4210.6 L406.6,4205.8 L409.8,4201.8 L413.8,4198.8 L418.5,4196.7 L423.4,4195.3 L428.5,4194.5 L433.6,4194.1 L439,4193.9 L444.7,4193.8 L450.7,4193.8 L457,4193.9 L463.6,4194 L470.5,4194.1 L477.5,4194.2 L484.5,4194.3 L491.3,4194.4 L497.6,4194.4 L503.5,4194.5 L508.9,4194.5 L514.1,4194.4 L519.2,4194.4 L524.3,4194.4 L529.5,4194.4 L534.8,4194.4 L540.3,4194.4 L545.8,4194.4 L551.5,4194.3 L557.3,4194.3 L563.1,4194.3 L569.1,4194.3 L575.1,4194.3 L581.2,4194.3 L587.4,4194.3 L593.6,4194.3 L599.9,4194.2 L606.2,4194.2 L612.6,4194.2 L619,4194.2 L625.5,4194.2 L631.9,4194.2 L638.4,4194.2 L644.9,4194.2 L651.5,4194.2 L658,4194.1 L664.5,4194.1 L671,4194.1 L677.4,4194.1 L683.9,4194.1 L690.3,4194.1 L696.7,4194.1 L703,4194.1 L709.3,4194 L715.6,4194 L721.8,4194 L727.9,4194 L734,4194" fill="none" stroke="#000000" stroke-width="10" stroke-linecap="round" stroke-linejoin="round"/>
<path d="M361,4423 L362.2,4417 L363.3,4410.9 L364.5,4404.9 L365.6,4399 L366.8,4392.9 L367.9,4386.9 L369.1,4380.9 L370.3,4374.8 L371.4,4368.7 L372.6,4362.6 L373.8,4356.4 L374.9,4350.3 L376.1,4344.2 L377.2,4338.2 L378.4,4332.1 L379.5,4326 L380.7,4319.8 L381.9,4313.6 L383,4307.4 L384.2,4301.2 L385.3,4295 L386.5,4288.9 L387.6,4282.9 L388.8,4276.9 L389.9,4271 L391,4265 L392.1,4258.9 L393.3,4252.5 L394.4,4245.9 L395.6,4239.3 L396.8,4232.8 L398,4226.5 L399.3,4220.5 L400.7,4214.9 L402.6,4209.6 L404.9,4204.8 L408.1,4200.7 L412.2,4197.4 L417,4195.1 L422.5,4193.8 L428.1,4193.2 L433.7,4193 L439.2,4192.9 L444.6,4192.9 L450.1,4192.9 L455.9,4192.9 L461.9,4192.9 L468.2,4192.9 L474.8,4192.9 L481.5,4193 L488.1,4193 L494.5,4193 L500.5,4193 L506,4193 L511.1,4193 L516.1,4193 L521.1,4192.9 L526.1,4192.9 L531.3,4192.9 L536.6,4192.9 L542.1,4192.9 L547.7,4192.8 L553.4,4192.8 L559.2,4192.8 L565.1,4192.8 L571.1,4192.8 L577.1,4192.7 L583.3,4192.7 L589.5,4192.7 L595.9,4192.6 L602.2,4192.6 L608.6,4192.6 L615.1,4192.6 L621.6,4192.5 L628.2,4192.5 L634.7,4192.5 L641.3,4192.4 L647.9,4192.4 L654.5,4192.4 L661.1,4192.3 L667.7,4192.3 L674.3,4192.3 L680.9,4192.3 L687.4,4192.2 L693.9,4192.2 L700.4,4192.2 L706.8,4192.1 L713.1,4192.1 L719.5,4192.1 L725.7,4192.1 L731.9,4192 L738,4192" fill="none" stroke="#c020ff" stroke-width="10" stroke-linecap="round" stroke-linejoin="round"/>
<path d="M736,3757.7 L1141,3757.7" fill="none" stroke="#c020ff" stroke-width="10" stroke-linecap="round" stroke-linejoin="round"/>
<line x1="374" y1="4205" x2="401.9" y2="4494.7" stroke="#8a8a8a" stroke-width="3"/>
<polygon points="403,4506.6 394.1,4487.4 408.1,4486" fill="#222"/>
</g>
<line x1="225" y1="131.5" x2="245" y2="131.5" stroke="#7a7a7a" stroke-width="5"/>
<line x1="1141" y1="131.5" x2="1121" y2="131.5" stroke="#7a7a7a" stroke-width="5"/>
<line x1="225" y1="272" x2="245" y2="272" stroke="#7a7a7a" stroke-width="5"/>
<line x1="1141" y1="272" x2="1121" y2="272" stroke="#7a7a7a" stroke-width="5"/>
<line x1="225" y1="412.5" x2="245" y2="412.5" stroke="#7a7a7a" stroke-width="5"/>
<line x1="1141" y1="412.5" x2="1121" y2="412.5" stroke="#7a7a7a" stroke-width="5"/>
<line x1="225" y1="553" x2="245" y2="553" stroke="#7a7a7a" stroke-width="5"/>
<line x1="1141" y1="553" x2="1121" y2="553" stroke="#7a7a7a" stroke-width="5"/>
<line x1="225" y1="693.5" x2="245" y2="693.5" stroke="#7a7a7a" stroke-width="5"/>
<line x1="1141" y1="693.5" x2="1121" y2="693.5" stroke="#7a7a7a" stroke-width="5"/>
<line x1="225" y1="834" x2="245" y2="834" stroke="#7a7a7a" stroke-width="5"/>
<line x1="1141" y1="834" x2="1121" y2="834" stroke="#7a7a7a" stroke-width="5"/>
<line x1="225" y1="974.5" x2="245" y2="974.5" stroke="#7a7a7a" stroke-width="5"/>
<line x1="1141" y1="974.5" x2="1121" y2="974.5" stroke="#7a7a7a" stroke-width="5"/>
<line x1="377.5" y1="61" x2="377.5" y2="80" stroke="#555" stroke-width="3"/>
<line x1="377.5" y1="976" x2="377.5" y2="957" stroke="#555" stroke-width="3"/>
<line x1="530" y1="61" x2="530" y2="80" stroke="#555" stroke-width="3"/>
<line x1="530" y1="976" x2="530" y2="957" stroke="#555" stroke-width="3"/>
<line x1="682.5" y1="61" x2="682.5" y2="80" stroke="#555" stroke-width="3"/>
<line x1="682.5" y1="976" x2="682.5" y2="957" stroke="#555" stroke-width="3"/>
<line x1="835" y1="61" x2="835" y2="80" stroke="#555" stroke-width="3"/>
<line x1="835" y1="976" x2="835" y2="957" stroke="#555" stroke-width="3"/>
<line x1="987.5" y1="61" x2="987.5" y2="80" stroke="#555" stroke-width="3"/>
<line x1="987.5" y1="976" x2="987.5" y2="957" stroke="#555" stroke-width="3"/>
<line x1="225" y1="1046" x2="245" y2="1046" stroke="#7a7a7a" stroke-width="5"/>
<line x1="1141" y1="1046" x2="1121" y2="1046" stroke="#7a7a7a" stroke-width="5"/>
<line x1="225" y1="1187" x2="245" y2="1187" stroke="#7a7a7a" stroke-width="5"/>
<line x1="1141" y1="1187" x2="1121" y2="1187" stroke="#7a7a7a" stroke-width="5"/>
<line x1="225" y1="1328" x2="245" y2="1328" stroke="#7a7a7a" stroke-width="5"/>
<line x1="1141" y1="1328" x2="1121" y2="1328" stroke="#7a7a7a" stroke-width="5"/>
<line x1="225" y1="1469" x2="245" y2="1469" stroke="#7a7a7a" stroke-width="5"/>
<line x1="1141" y1="1469" x2="1121" y2="1469" stroke="#7a7a7a" stroke-width="5"/>
<line x1="225" y1="1610" x2="245" y2="1610" stroke="#7a7a7a" stroke-width="5"/>
<line x1="1141" y1="1610" x2="1121" y2="1610" stroke="#7a7a7a" stroke-width="5"/>
<line x1="225" y1="1751" x2="245" y2="1751" stroke="#7a7a7a" stroke-width="5"/>
<line x1="1141" y1="1751" x2="1121" y2="1751" stroke="#7a7a7a" stroke-width="5"/>
<line x1="225" y1="1892" x2="245" y2="1892" stroke="#7a7a7a" stroke-width="5"/>
<line x1="1141" y1="1892" x2="1121" y2="1892" stroke="#7a7a7a" stroke-width="5"/>
<line x1="377.5" y1="976" x2="377.5" y2="995" stroke="#555" stroke-width="3"/>
<line x1="377.5" y1="1892" x2="377.5" y2="1873" stroke="#555" stroke-width="3"/>
<line x1="530" y1="976" x2="530" y2="995" stroke="#555" stroke-width="3"/>
<line x1="530" y1="1892" x2="530" y2="1873" stroke="#555" stroke-width="3"/>
<line x1="682.5" y1="976" x2="682.5" y2="995" stroke="#555" stroke-width="3"/>
<line x1="682.5" y1="1892" x2="682.5" y2="1873" stroke="#555" stroke-width="3"/>
<line x1="835" y1="976" x2="835" y2="995" stroke="#555" stroke-width="3"/>
<line x1="835" y1="1892" x2="835" y2="1873" stroke="#555" stroke-width="3"/>
<line x1="987.5" y1="976" x2="987.5" y2="995" stroke="#555" stroke-width="3"/>
<line x1="987.5" y1="1892" x2="987.5" y2="1873" stroke="#555" stroke-width="3"/>
<line x1="225" y1="1962" x2="245" y2="1962" stroke="#7a7a7a" stroke-width="5"/>
<line x1="1141" y1="1962" x2="1121" y2="1962" stroke="#7a7a7a" stroke-width="5"/>
<line x1="225" y1="2103.1" x2="245" y2="2103.1" stroke="#7a7a7a" stroke-width="5"/>
<line x1="1141" y1="2103.1" x2="1121" y2="2103.1" stroke="#7a7a7a" stroke-width="5"/>
<line x1="225" y1="2244.2" x2="245" y2="2244.2" stroke="#7a7a7a" stroke-width="5"/>
<line x1="1141" y1="2244.2" x2="1121" y2="2244.2" stroke="#7a7a7a" stroke-width="5"/>
<line x1="225" y1="2385.3" x2="245" y2="2385.3" stroke="#7a7a7a" stroke-width="5"/>
<line x1="1141" y1="2385.3" x2="1121" y2="2385.3" stroke="#7a7a7a" stroke-width="5"/>
<line x1="225" y1="2526.4" x2="245" y2="2526.4" stroke="#7a7a7a" stroke-width="5"/>
<line x1="1141" y1="2526.4" x2="1121" y2="2526.4" stroke="#7a7a7a" stroke-width="5"/>
<line x1="225" y1="2667.5" x2="245" y2="2667.5" stroke="#7a7a7a" stroke-width="5"/>
<line x1="1141" y1="2667.5" x2="1121" y2="2667.5" stroke="#7a7a7a" stroke-width="5"/>
<line x1="225" y1="2808.6" x2="245" y2="2808.6" stroke="#7a7a7a" stroke-width="5"/>
<line x1="1141" y1="2808.6" x2="1121" y2="2808.6" stroke="#7a7a7a" stroke-width="5"/>
<line x1="377.5" y1="1892" x2="377.5" y2="1911" stroke="#555" stroke-width="3"/>
<line x1="377.5" y1="2808" x2="377.5" y2="2789" stroke="#555" stroke-width="3"/>
<line x1="530" y1="1892" x2="530" y2="1911" stroke="#555" stroke-width="3"/>
<line x1="530" y1="2808" x2="530" y2="2789" stroke="#555" stroke-width="3"/>
<line x1="682.5" y1="1892" x2="682.5" y2="1911" stroke="#555" stroke-width="3"/>
<line x1="682.5" y1="2808" x2="682.5" y2="2789" stroke="#555" stroke-width="3"/>
<line x1="835" y1="1892" x2="835" y2="1911" stroke="#555" stroke-width="3"/>
<line x1="835" y1="2808" x2="835" y2="2789" stroke="#555" stroke-width="3"/>
<line x1="987.5" y1="1892" x2="987.5" y2="1911" stroke="#555" stroke-width="3"/>
<line x1="987.5" y1="2808" x2="987.5" y2="2789" stroke="#555" stroke-width="3"/>
<line x1="225" y1="2912.5" x2="245" y2="2912.5" stroke="#7a7a7a" stroke-width="5"/>
<line x1="1141" y1="2912.5" x2="1121" y2="2912.5" stroke="#7a7a7a" stroke-width="5"/>
<line x1="225" y1="3116.9" x2="245" y2="3116.9" stroke="#7a7a7a" stroke-width="5"/>
<line x1="1141" y1="3116.9" x2="1121" y2="3116.9" stroke="#7a7a7a" stroke-width="5"/>
<line x1="225" y1="3321.3" x2="245" y2="3321.3" stroke="#7a7a7a" stroke-width="5"/>
<line x1="1141" y1="3321.3" x2="1121" y2="3321.3" stroke="#7a7a7a" stroke-width="5"/>
<line x1="225" y1="3525.7" x2="245" y2="3525.7" stroke="#7a7a7a" stroke-width="5"/>
<line x1="1141" y1="3525.7" x2="1121" y2="3525.7" stroke="#7a7a7a" stroke-width="5"/>
<line x1="225" y1="3730.1" x2="245" y2="3730.1" stroke="#7a7a7a" stroke-width="5"/>
<line x1="1141" y1="3730.1" x2="1121" y2="3730.1" stroke="#7a7a7a" stroke-width="5"/>
<line x1="377.5" y1="2808" x2="377.5" y2="2827" stroke="#555" stroke-width="3"/>
<line x1="377.5" y1="3730" x2="377.5" y2="3711" stroke="#555" stroke-width="3"/>
<line x1="530" y1="2808" x2="530" y2="2827" stroke="#555" stroke-width="3"/>
<line x1="530" y1="3730" x2="530" y2="3711" stroke="#555" stroke-width="3"/>
<line x1="682.5" y1="2808" x2="682.5" y2="2827" stroke="#555" stroke-width="3"/>
<line x1="682.5" y1="3730" x2="682.5" y2="3711" stroke="#555" stroke-width="3"/>
<line x1="835" y1="2808" x2="835" y2="2827" stroke="#555" stroke-width="3"/>
<line x1="835" y1="3730" x2="835" y2="3711" stroke="#555" stroke-width="3"/>
<line x1="987.5" y1="2808" x2="987.5" y2="2827" stroke="#555" stroke-width="3"/>
<line x1="987.5" y1="3730" x2="987.5" y2="3711" stroke="#555" stroke-width="3"/>
<line x1="225" y1="3757" x2="245" y2="3757" stroke="#7a7a7a" stroke-width="5"/>
<line x1="1141" y1="3757" x2="1121" y2="3757" stroke="#7a7a7a" stroke-width="5"/>
<line x1="225" y1="3904.3" x2="245" y2="3904.3" stroke="#7a7a7a" stroke-width="5"/>
<line x1="1141" y1="3904.3" x2="1121" y2="3904.3" stroke="#7a7a7a" stroke-width="5"/>
<line x1="225" y1="4051.6" x2="245" y2="4051.6" stroke="#7a7a7a" stroke-width="5"/>
<line x1="1141" y1="4051.6" x2="1121" y2="4051.6" stroke="#7a7a7a" stroke-width="5"/>
<line x1="225" y1="4198.9" x2="245" y2="4198.9" stroke="#7a7a7a" stroke-width="5"/>
<line x1="1141" y1="4198.9" x2="1121" y2="4198.9" stroke="#7a7a7a" stroke-width="5"/>
<line x1="225" y1="4346.2" x2="245" y2="4346.2" stroke="#7a7a7a" stroke-width="5"/>
<line x1="1141" y1="4346.2" x2="1121" y2="4346.2" stroke="#7a7a7a" stroke-width="5"/>
<line x1="225" y1="4493.5" x2="245" y2="4493.5" stroke="#7a7a7a" stroke-width="5"/>
<line x1="1141" y1="4493.5" x2="1121" y2="4493.5" stroke="#7a7a7a" stroke-width="5"/>
<line x1="225" y1="4640.8" x2="245" y2="4640.8" stroke="#7a7a7a" stroke-width="5"/>
<line x1="1141" y1="4640.8" x2="1121" y2="4640.8" stroke="#7a7a7a" stroke-width="5"/>
<line x1="377.5" y1="3730" x2="377.5" y2="3749" stroke="#555" stroke-width="3"/>
<line x1="377.5" y1="4641" x2="377.5" y2="4622" stroke="#555" stroke-width="3"/>
<line x1="530" y1="3730" x2="530" y2="3749" stroke="#555" stroke-width="3"/>
<line x1="530" y1="4641" x2="530" y2="4622" stroke="#555" stroke-width="3"/>
<line x1="682.5" y1="3730" x2="682.5" y2="3749" stroke="#555" stroke-width="3"/>
<line x1="682.5" y1="4641" x2="682.5" y2="4622" stroke="#555" stroke-width="3"/>
<line x1="835" y1="3730" x2="835" y2="3749" stroke="#555" stroke-width="3"/>
<line x1="835" y1="4641" x2="835" y2="4622" stroke="#555" stroke-width="3"/>
<line x1="987.5" y1="3730" x2="987.5" y2="3749" stroke="#555" stroke-width="3"/>
<line x1="987.5" y1="4641" x2="987.5" y2="4622" stroke="#555" stroke-width="3"/>
<rect x="225" y="61" width="916" height="4580" fill="none" stroke="#7a7a7a" stroke-width="6.5"/>
<line x1="225" y1="976" x2="1141" y2="976" stroke="#383838" stroke-width="5"/>
<line x1="225" y1="1892" x2="1141" y2="1892" stroke="#383838" stroke-width="5"/>
<line x1="225" y1="2808" x2="1141" y2="2808" stroke="#383838" stroke-width="5"/>
<line x1="225" y1="3730" x2="1141" y2="3730" stroke="#383838" stroke-width="5"/>
<line x1="1375" y1="910.3" x2="1390" y2="910.3" stroke="#555" stroke-width="4"/>
<line x1="2311" y1="910.3" x2="2296" y2="910.3" stroke="#555" stroke-width="4"/>
<line x1="1375" y1="849.7" x2="1390" y2="849.7" stroke="#555" stroke-width="4"/>
<line x1="2311" y1="849.7" x2="2296" y2="849.7" stroke="#555" stroke-width="4"/>
<line x1="1375" y1="789" x2="1390" y2="789" stroke="#555" stroke-width="4"/>
<line x1="2311" y1="789" x2="2296" y2="789" stroke="#555" stroke-width="4"/>
<line x1="1375" y1="728.3" x2="1390" y2="728.3" stroke="#555" stroke-width="4"/>
<line x1="2311" y1="728.3" x2="2296" y2="728.3" stroke="#555" stroke-width="4"/>
<line x1="1375" y1="667.7" x2="1397" y2="667.7" stroke="#555" stroke-width="4"/>
<line x1="2311" y1="667.7" x2="2289" y2="667.7" stroke="#555" stroke-width="4"/>
<line x1="1375" y1="607" x2="1390" y2="607" stroke="#555" stroke-width="4"/>
<line x1="2311" y1="607" x2="2296" y2="607" stroke="#555" stroke-width="4"/>
<line x1="1375" y1="546.3" x2="1390" y2="546.3" stroke="#555" stroke-width="4"/>
<line x1="2311" y1="546.3" x2="2296" y2="546.3" stroke="#555" stroke-width="4"/>
<line x1="1375" y1="485.7" x2="1390" y2="485.7" stroke="#555" stroke-width="4"/>
<line x1="2311" y1="485.7" x2="2296" y2="485.7" stroke="#555" stroke-width="4"/>
<line x1="1375" y1="425" x2="1390" y2="425" stroke="#555" stroke-width="4"/>
<line x1="2311" y1="425" x2="2296" y2="425" stroke="#555" stroke-width="4"/>
<line x1="1375" y1="364.3" x2="1397" y2="364.3" stroke="#555" stroke-width="4"/>
<line x1="2311" y1="364.3" x2="2289" y2="364.3" stroke="#555" stroke-width="4"/>
<line x1="1375" y1="303.7" x2="1390" y2="303.7" stroke="#555" stroke-width="4"/>
<line x1="2311" y1="303.7" x2="2296" y2="303.7" stroke="#555" stroke-width="4"/>
<line x1="1375" y1="243" x2="1390" y2="243" stroke="#555" stroke-width="4"/>
<line x1="2311" y1="243" x2="2296" y2="243" stroke="#555" stroke-width="4"/>
<line x1="1375" y1="182.3" x2="1390" y2="182.3" stroke="#555" stroke-width="4"/>
<line x1="2311" y1="182.3" x2="2296" y2="182.3" stroke="#555" stroke-width="4"/>
<line x1="1375" y1="121.7" x2="1390" y2="121.7" stroke="#555" stroke-width="4"/>
<line x1="2311" y1="121.7" x2="2296" y2="121.7" stroke="#555" stroke-width="4"/>
<line x1="1437.4" y1="61" x2="1437.4" y2="75" stroke="#444" stroke-width="3"/>
<line x1="1437.4" y1="971" x2="1437.4" y2="957" stroke="#444" stroke-width="3"/>
<line x1="1499.8" y1="61" x2="1499.8" y2="75" stroke="#444" stroke-width="3"/>
<line x1="1499.8" y1="971" x2="1499.8" y2="957" stroke="#444" stroke-width="3"/>
<line x1="1562.2" y1="61" x2="1562.2" y2="75" stroke="#444" stroke-width="3"/>
<line x1="1562.2" y1="971" x2="1562.2" y2="957" stroke="#444" stroke-width="3"/>
<line x1="1624.6" y1="61" x2="1624.6" y2="75" stroke="#444" stroke-width="3"/>
<line x1="1624.6" y1="971" x2="1624.6" y2="957" stroke="#444" stroke-width="3"/>
<line x1="1687" y1="61" x2="1687" y2="83" stroke="#444" stroke-width="3"/>
<line x1="1687" y1="971" x2="1687" y2="949" stroke="#444" stroke-width="3"/>
<line x1="1749.4" y1="61" x2="1749.4" y2="75" stroke="#444" stroke-width="3"/>
<line x1="1749.4" y1="971" x2="1749.4" y2="957" stroke="#444" stroke-width="3"/>
<line x1="1811.8" y1="61" x2="1811.8" y2="75" stroke="#444" stroke-width="3"/>
<line x1="1811.8" y1="971" x2="1811.8" y2="957" stroke="#444" stroke-width="3"/>
<line x1="1874.2" y1="61" x2="1874.2" y2="75" stroke="#444" stroke-width="3"/>
<line x1="1874.2" y1="971" x2="1874.2" y2="957" stroke="#444" stroke-width="3"/>
<line x1="1936.6" y1="61" x2="1936.6" y2="75" stroke="#444" stroke-width="3"/>
<line x1="1936.6" y1="971" x2="1936.6" y2="957" stroke="#444" stroke-width="3"/>
<line x1="1999" y1="61" x2="1999" y2="83" stroke="#444" stroke-width="3"/>
<line x1="1999" y1="971" x2="1999" y2="949" stroke="#444" stroke-width="3"/>
<line x1="2061.4" y1="61" x2="2061.4" y2="75" stroke="#444" stroke-width="3"/>
<line x1="2061.4" y1="971" x2="2061.4" y2="957" stroke="#444" stroke-width="3"/>
<line x1="2123.8" y1="61" x2="2123.8" y2="75" stroke="#444" stroke-width="3"/>
<line x1="2123.8" y1="971" x2="2123.8" y2="957" stroke="#444" stroke-width="3"/>
<line x1="2186.2" y1="61" x2="2186.2" y2="75" stroke="#444" stroke-width="3"/>
<line x1="2186.2" y1="971" x2="2186.2" y2="957" stroke="#444" stroke-width="3"/>
<line x1="2248.6" y1="61" x2="2248.6" y2="75" stroke="#444" stroke-width="3"/>
<line x1="2248.6" y1="971" x2="2248.6" y2="957" stroke="#444" stroke-width="3"/>
<line x1="1375" y1="1807.7" x2="1390" y2="1807.7" stroke="#555" stroke-width="4"/>
<line x1="2311" y1="1807.7" x2="2296" y2="1807.7" stroke="#555" stroke-width="4"/>
<line x1="1375" y1="1748" x2="1390" y2="1748" stroke="#555" stroke-width="4"/>
<line x1="2311" y1="1748" x2="2296" y2="1748" stroke="#555" stroke-width="4"/>
<line x1="1375" y1="1688.2" x2="1390" y2="1688.2" stroke="#555" stroke-width="4"/>
<line x1="2311" y1="1688.2" x2="2296" y2="1688.2" stroke="#555" stroke-width="4"/>
<line x1="1375" y1="1628.4" x2="1390" y2="1628.4" stroke="#555" stroke-width="4"/>
<line x1="2311" y1="1628.4" x2="2296" y2="1628.4" stroke="#555" stroke-width="4"/>
<line x1="1375" y1="1568.7" x2="1397" y2="1568.7" stroke="#555" stroke-width="4"/>
<line x1="2311" y1="1568.7" x2="2289" y2="1568.7" stroke="#555" stroke-width="4"/>
<line x1="1375" y1="1508.9" x2="1390" y2="1508.9" stroke="#555" stroke-width="4"/>
<line x1="2311" y1="1508.9" x2="2296" y2="1508.9" stroke="#555" stroke-width="4"/>
<line x1="1375" y1="1449.1" x2="1390" y2="1449.1" stroke="#555" stroke-width="4"/>
<line x1="2311" y1="1449.1" x2="2296" y2="1449.1" stroke="#555" stroke-width="4"/>
<line x1="1375" y1="1389.4" x2="1390" y2="1389.4" stroke="#555" stroke-width="4"/>
<line x1="2311" y1="1389.4" x2="2296" y2="1389.4" stroke="#555" stroke-width="4"/>
<line x1="1375" y1="1329.6" x2="1390" y2="1329.6" stroke="#555" stroke-width="4"/>
<line x1="2311" y1="1329.6" x2="2296" y2="1329.6" stroke="#555" stroke-width="4"/>
<line x1="1375" y1="1269.8" x2="1397" y2="1269.8" stroke="#555" stroke-width="4"/>
<line x1="2311" y1="1269.8" x2="2289" y2="1269.8" stroke="#555" stroke-width="4"/>
<line x1="1375" y1="1210.1" x2="1390" y2="1210.1" stroke="#555" stroke-width="4"/>
<line x1="2311" y1="1210.1" x2="2296" y2="1210.1" stroke="#555" stroke-width="4"/>
<line x1="1375" y1="1150.3" x2="1390" y2="1150.3" stroke="#555" stroke-width="4"/>
<line x1="2311" y1="1150.3" x2="2296" y2="1150.3" stroke="#555" stroke-width="4"/>
<line x1="1375" y1="1090.5" x2="1390" y2="1090.5" stroke="#555" stroke-width="4"/>
<line x1="2311" y1="1090.5" x2="2296" y2="1090.5" stroke="#555" stroke-width="4"/>
<line x1="1375" y1="1030.8" x2="1390" y2="1030.8" stroke="#555" stroke-width="4"/>
<line x1="2311" y1="1030.8" x2="2296" y2="1030.8" stroke="#555" stroke-width="4"/>
<line x1="1437.4" y1="971" x2="1437.4" y2="985" stroke="#444" stroke-width="3"/>
<line x1="1437.4" y1="1867.5" x2="1437.4" y2="1853.5" stroke="#444" stroke-width="3"/>
<line x1="1499.8" y1="971" x2="1499.8" y2="985" stroke="#444" stroke-width="3"/>
<line x1="1499.8" y1="1867.5" x2="1499.8" y2="1853.5" stroke="#444" stroke-width="3"/>
<line x1="1562.2" y1="971" x2="1562.2" y2="985" stroke="#444" stroke-width="3"/>
<line x1="1562.2" y1="1867.5" x2="1562.2" y2="1853.5" stroke="#444" stroke-width="3"/>
<line x1="1624.6" y1="971" x2="1624.6" y2="985" stroke="#444" stroke-width="3"/>
<line x1="1624.6" y1="1867.5" x2="1624.6" y2="1853.5" stroke="#444" stroke-width="3"/>
<line x1="1687" y1="971" x2="1687" y2="993" stroke="#444" stroke-width="3"/>
<line x1="1687" y1="1867.5" x2="1687" y2="1845.5" stroke="#444" stroke-width="3"/>
<line x1="1749.4" y1="971" x2="1749.4" y2="985" stroke="#444" stroke-width="3"/>
<line x1="1749.4" y1="1867.5" x2="1749.4" y2="1853.5" stroke="#444" stroke-width="3"/>
<line x1="1811.8" y1="971" x2="1811.8" y2="985" stroke="#444" stroke-width="3"/>
<line x1="1811.8" y1="1867.5" x2="1811.8" y2="1853.5" stroke="#444" stroke-width="3"/>
<line x1="1874.2" y1="971" x2="1874.2" y2="985" stroke="#444" stroke-width="3"/>
<line x1="1874.2" y1="1867.5" x2="1874.2" y2="1853.5" stroke="#444" stroke-width="3"/>
<line x1="1936.6" y1="971" x2="1936.6" y2="985" stroke="#444" stroke-width="3"/>
<line x1="1936.6" y1="1867.5" x2="1936.6" y2="1853.5" stroke="#444" stroke-width="3"/>
<line x1="1999" y1="971" x2="1999" y2="993" stroke="#444" stroke-width="3"/>
<line x1="1999" y1="1867.5" x2="1999" y2="1845.5" stroke="#444" stroke-width="3"/>
<line x1="2061.4" y1="971" x2="2061.4" y2="985" stroke="#444" stroke-width="3"/>
<line x1="2061.4" y1="1867.5" x2="2061.4" y2="1853.5" stroke="#444" stroke-width="3"/>
<line x1="2123.8" y1="971" x2="2123.8" y2="985" stroke="#444" stroke-width="3"/>
<line x1="2123.8" y1="1867.5" x2="2123.8" y2="1853.5" stroke="#444" stroke-width="3"/>
<line x1="2186.2" y1="971" x2="2186.2" y2="985" stroke="#444" stroke-width="3"/>
<line x1="2186.2" y1="1867.5" x2="2186.2" y2="1853.5" stroke="#444" stroke-width="3"/>
<line x1="2248.6" y1="971" x2="2248.6" y2="985" stroke="#444" stroke-width="3"/>
<line x1="2248.6" y1="1867.5" x2="2248.6" y2="1853.5" stroke="#444" stroke-width="3"/>
<line x1="1375" y1="2727.6" x2="1390" y2="2727.6" stroke="#555" stroke-width="4"/>
<line x1="2311" y1="2727.6" x2="2296" y2="2727.6" stroke="#555" stroke-width="4"/>
<line x1="1375" y1="2666.1" x2="1390" y2="2666.1" stroke="#555" stroke-width="4"/>
<line x1="2311" y1="2666.1" x2="2296" y2="2666.1" stroke="#555" stroke-width="4"/>
<line x1="1375" y1="2604.7" x2="1390" y2="2604.7" stroke="#555" stroke-width="4"/>
<line x1="2311" y1="2604.7" x2="2296" y2="2604.7" stroke="#555" stroke-width="4"/>
<line x1="1375" y1="2543.3" x2="1390" y2="2543.3" stroke="#555" stroke-width="4"/>
<line x1="2311" y1="2543.3" x2="2296" y2="2543.3" stroke="#555" stroke-width="4"/>
<line x1="1375" y1="2481.8" x2="1397" y2="2481.8" stroke="#555" stroke-width="4"/>
<line x1="2311" y1="2481.8" x2="2289" y2="2481.8" stroke="#555" stroke-width="4"/>
<line x1="1375" y1="2420.4" x2="1390" y2="2420.4" stroke="#555" stroke-width="4"/>
<line x1="2311" y1="2420.4" x2="2296" y2="2420.4" stroke="#555" stroke-width="4"/>
<line x1="1375" y1="2359" x2="1390" y2="2359" stroke="#555" stroke-width="4"/>
<line x1="2311" y1="2359" x2="2296" y2="2359" stroke="#555" stroke-width="4"/>
<line x1="1375" y1="2297.5" x2="1390" y2="2297.5" stroke="#555" stroke-width="4"/>
<line x1="2311" y1="2297.5" x2="2296" y2="2297.5" stroke="#555" stroke-width="4"/>
<line x1="1375" y1="2236.1" x2="1390" y2="2236.1" stroke="#555" stroke-width="4"/>
<line x1="2311" y1="2236.1" x2="2296" y2="2236.1" stroke="#555" stroke-width="4"/>
<line x1="1375" y1="2174.7" x2="1397" y2="2174.7" stroke="#555" stroke-width="4"/>
<line x1="2311" y1="2174.7" x2="2289" y2="2174.7" stroke="#555" stroke-width="4"/>
<line x1="1375" y1="2113.2" x2="1390" y2="2113.2" stroke="#555" stroke-width="4"/>
<line x1="2311" y1="2113.2" x2="2296" y2="2113.2" stroke="#555" stroke-width="4"/>
<line x1="1375" y1="2051.8" x2="1390" y2="2051.8" stroke="#555" stroke-width="4"/>
<line x1="2311" y1="2051.8" x2="2296" y2="2051.8" stroke="#555" stroke-width="4"/>
<line x1="1375" y1="1990.4" x2="1390" y2="1990.4" stroke="#555" stroke-width="4"/>
<line x1="2311" y1="1990.4" x2="2296" y2="1990.4" stroke="#555" stroke-width="4"/>
<line x1="1375" y1="1928.9" x2="1390" y2="1928.9" stroke="#555" stroke-width="4"/>
<line x1="2311" y1="1928.9" x2="2296" y2="1928.9" stroke="#555" stroke-width="4"/>
<line x1="1437.4" y1="1867.5" x2="1437.4" y2="1881.5" stroke="#444" stroke-width="3"/>
<line x1="1437.4" y1="2789" x2="1437.4" y2="2775" stroke="#444" stroke-width="3"/>
<line x1="1499.8" y1="1867.5" x2="1499.8" y2="1881.5" stroke="#444" stroke-width="3"/>
<line x1="1499.8" y1="2789" x2="1499.8" y2="2775" stroke="#444" stroke-width="3"/>
<line x1="1562.2" y1="1867.5" x2="1562.2" y2="1881.5" stroke="#444" stroke-width="3"/>
<line x1="1562.2" y1="2789" x2="1562.2" y2="2775" stroke="#444" stroke-width="3"/>
<line x1="1624.6" y1="1867.5" x2="1624.6" y2="1881.5" stroke="#444" stroke-width="3"/>
<line x1="1624.6" y1="2789" x2="1624.6" y2="2775" stroke="#444" stroke-width="3"/>
<line x1="1687" y1="1867.5" x2="1687" y2="1889.5" stroke="#444" stroke-width="3"/>
<line x1="1687" y1="2789" x2="1687" y2="2767" stroke="#444" stroke-width="3"/>
<line x1="1749.4" y1="1867.5" x2="1749.4" y2="1881.5" stroke="#444" stroke-width="3"/>
<line x1="1749.4" y1="2789" x2="1749.4" y2="2775" stroke="#444" stroke-width="3"/>
<line x1="1811.8" y1="1867.5" x2="1811.8" y2="1881.5" stroke="#444" stroke-width="3"/>
<line x1="1811.8" y1="2789" x2="1811.8" y2="2775" stroke="#444" stroke-width="3"/>
<line x1="1874.2" y1="1867.5" x2="1874.2" y2="1881.5" stroke="#444" stroke-width="3"/>
<line x1="1874.2" y1="2789" x2="1874.2" y2="2775" stroke="#444" stroke-width="3"/>
<line x1="1936.6" y1="1867.5" x2="1936.6" y2="1881.5" stroke="#444" stroke-width="3"/>
<line x1="1936.6" y1="2789" x2="1936.6" y2="2775" stroke="#444" stroke-width="3"/>
<line x1="1999" y1="1867.5" x2="1999" y2="1889.5" stroke="#444" stroke-width="3"/>
<line x1="1999" y1="2789" x2="1999" y2="2767" stroke="#444" stroke-width="3"/>
<line x1="2061.4" y1="1867.5" x2="2061.4" y2="1881.5" stroke="#444" stroke-width="3"/>
<line x1="2061.4" y1="2789" x2="2061.4" y2="2775" stroke="#444" stroke-width="3"/>
<line x1="2123.8" y1="1867.5" x2="2123.8" y2="1881.5" stroke="#444" stroke-width="3"/>
<line x1="2123.8" y1="2789" x2="2123.8" y2="2775" stroke="#444" stroke-width="3"/>
<line x1="2186.2" y1="1867.5" x2="2186.2" y2="1881.5" stroke="#444" stroke-width="3"/>
<line x1="2186.2" y1="2789" x2="2186.2" y2="2775" stroke="#444" stroke-width="3"/>
<line x1="2248.6" y1="1867.5" x2="2248.6" y2="1881.5" stroke="#444" stroke-width="3"/>
<line x1="2248.6" y1="2789" x2="2248.6" y2="2775" stroke="#444" stroke-width="3"/>
<line x1="1375" y1="3653.7" x2="1390" y2="3653.7" stroke="#555" stroke-width="4"/>
<line x1="2311" y1="3653.7" x2="2296" y2="3653.7" stroke="#555" stroke-width="4"/>
<line x1="1375" y1="3592" x2="1390" y2="3592" stroke="#555" stroke-width="4"/>
<line x1="2311" y1="3592" x2="2296" y2="3592" stroke="#555" stroke-width="4"/>
<line x1="1375" y1="3530.2" x2="1390" y2="3530.2" stroke="#555" stroke-width="4"/>
<line x1="2311" y1="3530.2" x2="2296" y2="3530.2" stroke="#555" stroke-width="4"/>
<line x1="1375" y1="3468.4" x2="1390" y2="3468.4" stroke="#555" stroke-width="4"/>
<line x1="2311" y1="3468.4" x2="2296" y2="3468.4" stroke="#555" stroke-width="4"/>
<line x1="1375" y1="3406.7" x2="1397" y2="3406.7" stroke="#555" stroke-width="4"/>
<line x1="2311" y1="3406.7" x2="2289" y2="3406.7" stroke="#555" stroke-width="4"/>
<line x1="1375" y1="3344.9" x2="1390" y2="3344.9" stroke="#555" stroke-width="4"/>
<line x1="2311" y1="3344.9" x2="2296" y2="3344.9" stroke="#555" stroke-width="4"/>
<line x1="1375" y1="3283.1" x2="1390" y2="3283.1" stroke="#555" stroke-width="4"/>
<line x1="2311" y1="3283.1" x2="2296" y2="3283.1" stroke="#555" stroke-width="4"/>
<line x1="1375" y1="3221.4" x2="1390" y2="3221.4" stroke="#555" stroke-width="4"/>
<line x1="2311" y1="3221.4" x2="2296" y2="3221.4" stroke="#555" stroke-width="4"/>
<line x1="1375" y1="3159.6" x2="1390" y2="3159.6" stroke="#555" stroke-width="4"/>
<line x1="2311" y1="3159.6" x2="2296" y2="3159.6" stroke="#555" stroke-width="4"/>
<line x1="1375" y1="3097.8" x2="1397" y2="3097.8" stroke="#555" stroke-width="4"/>
<line x1="2311" y1="3097.8" x2="2289" y2="3097.8" stroke="#555" stroke-width="4"/>
<line x1="1375" y1="3036.1" x2="1390" y2="3036.1" stroke="#555" stroke-width="4"/>
<line x1="2311" y1="3036.1" x2="2296" y2="3036.1" stroke="#555" stroke-width="4"/>
<line x1="1375" y1="2974.3" x2="1390" y2="2974.3" stroke="#555" stroke-width="4"/>
<line x1="2311" y1="2974.3" x2="2296" y2="2974.3" stroke="#555" stroke-width="4"/>
<line x1="1375" y1="2912.5" x2="1390" y2="2912.5" stroke="#555" stroke-width="4"/>
<line x1="2311" y1="2912.5" x2="2296" y2="2912.5" stroke="#555" stroke-width="4"/>
<line x1="1375" y1="2850.8" x2="1390" y2="2850.8" stroke="#555" stroke-width="4"/>
<line x1="2311" y1="2850.8" x2="2296" y2="2850.8" stroke="#555" stroke-width="4"/>
<line x1="1437.4" y1="2789" x2="1437.4" y2="2803" stroke="#444" stroke-width="3"/>
<line x1="1437.4" y1="3715.5" x2="1437.4" y2="3701.5" stroke="#444" stroke-width="3"/>
<line x1="1499.8" y1="2789" x2="1499.8" y2="2803" stroke="#444" stroke-width="3"/>
<line x1="1499.8" y1="3715.5" x2="1499.8" y2="3701.5" stroke="#444" stroke-width="3"/>
<line x1="1562.2" y1="2789" x2="1562.2" y2="2803" stroke="#444" stroke-width="3"/>
<line x1="1562.2" y1="3715.5" x2="1562.2" y2="3701.5" stroke="#444" stroke-width="3"/>
<line x1="1624.6" y1="2789" x2="1624.6" y2="2803" stroke="#444" stroke-width="3"/>
<line x1="1624.6" y1="3715.5" x2="1624.6" y2="3701.5" stroke="#444" stroke-width="3"/>
<line x1="1687" y1="2789" x2="1687" y2="2811" stroke="#444" stroke-width="3"/>
<line x1="1687" y1="3715.5" x2="1687" y2="3693.5" stroke="#444" stroke-width="3"/>
<line x1="1749.4" y1="2789" x2="1749.4" y2="2803" stroke="#444" stroke-width="3"/>
<line x1="1749.4" y1="3715.5" x2="1749.4" y2="3701.5" stroke="#444" stroke-width="3"/>
<line x1="1811.8" y1="2789" x2="1811.8" y2="2803" stroke="#444" stroke-width="3"/>
<line x1="1811.8" y1="3715.5" x2="1811.8" y2="3701.5" stroke="#444" stroke-width="3"/>
<line x1="1874.2" y1="2789" x2="1874.2" y2="2803" stroke="#444" stroke-width="3"/>
<line x1="1874.2" y1="3715.5" x2="1874.2" y2="3701.5" stroke="#444" stroke-width="3"/>
<line x1="1936.6" y1="2789" x2="1936.6" y2="2803" stroke="#444" stroke-width="3"/>
<line x1="1936.6" y1="3715.5" x2="1936.6" y2="3701.5" stroke="#444" stroke-width="3"/>
<line x1="1999" y1="2789" x2="1999" y2="2811" stroke="#444" stroke-width="3"/>
<line x1="1999" y1="3715.5" x2="1999" y2="3693.5" stroke="#444" stroke-width="3"/>
<line x1="2061.4" y1="2789" x2="2061.4" y2="2803" stroke="#444" stroke-width="3"/>
<line x1="2061.4" y1="3715.5" x2="2061.4" y2="3701.5" stroke="#444" stroke-width="3"/>
<line x1="2123.8" y1="2789" x2="2123.8" y2="2803" stroke="#444" stroke-width="3"/>
<line x1="2123.8" y1="3715.5" x2="2123.8" y2="3701.5" stroke="#444" stroke-width="3"/>
<line x1="2186.2" y1="2789" x2="2186.2" y2="2803" stroke="#444" stroke-width="3"/>
<line x1="2186.2" y1="3715.5" x2="2186.2" y2="3701.5" stroke="#444" stroke-width="3"/>
<line x1="2248.6" y1="2789" x2="2248.6" y2="2803" stroke="#444" stroke-width="3"/>
<line x1="2248.6" y1="3715.5" x2="2248.6" y2="3701.5" stroke="#444" stroke-width="3"/>
<line x1="1375" y1="4583" x2="1390" y2="4583" stroke="#555" stroke-width="4"/>
<line x1="2311" y1="4583" x2="2296" y2="4583" stroke="#555" stroke-width="4"/>
<line x1="1375" y1="4521.1" x2="1390" y2="4521.1" stroke="#555" stroke-width="4"/>
<line x1="2311" y1="4521.1" x2="2296" y2="4521.1" stroke="#555" stroke-width="4"/>
<line x1="1375" y1="4459.1" x2="1390" y2="4459.1" stroke="#555" stroke-width="4"/>
<line x1="2311" y1="4459.1" x2="2296" y2="4459.1" stroke="#555" stroke-width="4"/>
<line x1="1375" y1="4397.1" x2="1390" y2="4397.1" stroke="#555" stroke-width="4"/>
<line x1="2311" y1="4397.1" x2="2296" y2="4397.1" stroke="#555" stroke-width="4"/>
<line x1="1375" y1="4335.2" x2="1397" y2="4335.2" stroke="#555" stroke-width="4"/>
<line x1="2311" y1="4335.2" x2="2289" y2="4335.2" stroke="#555" stroke-width="4"/>
<line x1="1375" y1="4273.2" x2="1390" y2="4273.2" stroke="#555" stroke-width="4"/>
<line x1="2311" y1="4273.2" x2="2296" y2="4273.2" stroke="#555" stroke-width="4"/>
<line x1="1375" y1="4211.2" x2="1390" y2="4211.2" stroke="#555" stroke-width="4"/>
<line x1="2311" y1="4211.2" x2="2296" y2="4211.2" stroke="#555" stroke-width="4"/>
<line x1="1375" y1="4149.3" x2="1390" y2="4149.3" stroke="#555" stroke-width="4"/>
<line x1="2311" y1="4149.3" x2="2296" y2="4149.3" stroke="#555" stroke-width="4"/>
<line x1="1375" y1="4087.3" x2="1390" y2="4087.3" stroke="#555" stroke-width="4"/>
<line x1="2311" y1="4087.3" x2="2296" y2="4087.3" stroke="#555" stroke-width="4"/>
<line x1="1375" y1="4025.3" x2="1397" y2="4025.3" stroke="#555" stroke-width="4"/>
<line x1="2311" y1="4025.3" x2="2289" y2="4025.3" stroke="#555" stroke-width="4"/>
<line x1="1375" y1="3963.4" x2="1390" y2="3963.4" stroke="#555" stroke-width="4"/>
<line x1="2311" y1="3963.4" x2="2296" y2="3963.4" stroke="#555" stroke-width="4"/>
<line x1="1375" y1="3901.4" x2="1390" y2="3901.4" stroke="#555" stroke-width="4"/>
<line x1="2311" y1="3901.4" x2="2296" y2="3901.4" stroke="#555" stroke-width="4"/>
<line x1="1375" y1="3839.4" x2="1390" y2="3839.4" stroke="#555" stroke-width="4"/>
<line x1="2311" y1="3839.4" x2="2296" y2="3839.4" stroke="#555" stroke-width="4"/>
<line x1="1375" y1="3777.5" x2="1390" y2="3777.5" stroke="#555" stroke-width="4"/>
<line x1="2311" y1="3777.5" x2="2296" y2="3777.5" stroke="#555" stroke-width="4"/>
<line x1="1437.4" y1="3715.5" x2="1437.4" y2="3729.5" stroke="#444" stroke-width="3"/>
<line x1="1437.4" y1="4645" x2="1437.4" y2="4631" stroke="#444" stroke-width="3"/>
<line x1="1499.8" y1="3715.5" x2="1499.8" y2="3729.5" stroke="#444" stroke-width="3"/>
<line x1="1499.8" y1="4645" x2="1499.8" y2="4631" stroke="#444" stroke-width="3"/>
<line x1="1562.2" y1="3715.5" x2="1562.2" y2="3729.5" stroke="#444" stroke-width="3"/>
<line x1="1562.2" y1="4645" x2="1562.2" y2="4631" stroke="#444" stroke-width="3"/>
<line x1="1624.6" y1="3715.5" x2="1624.6" y2="3729.5" stroke="#444" stroke-width="3"/>
<line x1="1624.6" y1="4645" x2="1624.6" y2="4631" stroke="#444" stroke-width="3"/>
<line x1="1687" y1="3715.5" x2="1687" y2="3737.5" stroke="#444" stroke-width="3"/>
<line x1="1687" y1="4645" x2="1687" y2="4623" stroke="#444" stroke-width="3"/>
<line x1="1749.4" y1="3715.5" x2="1749.4" y2="3729.5" stroke="#444" stroke-width="3"/>
<line x1="1749.4" y1="4645" x2="1749.4" y2="4631" stroke="#444" stroke-width="3"/>
<line x1="1811.8" y1="3715.5" x2="1811.8" y2="3729.5" stroke="#444" stroke-width="3"/>
<line x1="1811.8" y1="4645" x2="1811.8" y2="4631" stroke="#444" stroke-width="3"/>
<line x1="1874.2" y1="3715.5" x2="1874.2" y2="3729.5" stroke="#444" stroke-width="3"/>
<line x1="1874.2" y1="4645" x2="1874.2" y2="4631" stroke="#444" stroke-width="3"/>
<line x1="1936.6" y1="3715.5" x2="1936.6" y2="3729.5" stroke="#444" stroke-width="3"/>
<line x1="1936.6" y1="4645" x2="1936.6" y2="4631" stroke="#444" stroke-width="3"/>
<line x1="1999" y1="3715.5" x2="1999" y2="3737.5" stroke="#444" stroke-width="3"/>
<line x1="1999" y1="4645" x2="1999" y2="4623" stroke="#444" stroke-width="3"/>
<line x1="2061.4" y1="3715.5" x2="2061.4" y2="3729.5" stroke="#444" stroke-width="3"/>
<line x1="2061.4" y1="4645" x2="2061.4" y2="4631" stroke="#444" stroke-width="3"/>
<line x1="2123.8" y1="3715.5" x2="2123.8" y2="3729.5" stroke="#444" stroke-width="3"/>
<line x1="2123.8" y1="4645" x2="2123.8" y2="4631" stroke="#444" stroke-width="3"/>
<line x1="2186.2" y1="3715.5" x2="2186.2" y2="3729.5" stroke="#444" stroke-width="3"/>
<line x1="2186.2" y1="4645" x2="2186.2" y2="4631" stroke="#444" stroke-width="3"/>
<line x1="2248.6" y1="3715.5" x2="2248.6" y2="3729.5" stroke="#444" stroke-width="3"/>
<line x1="2248.6" y1="4645" x2="2248.6" y2="4631" stroke="#444" stroke-width="3"/>
<rect x="1375" y="61" width="936" height="4584" fill="none" stroke="#7a7a7a" stroke-width="6.5"/>
<line x1="1375" y1="971" x2="2311" y2="971" stroke="#383838" stroke-width="5"/>
<line x1="1375" y1="1867.5" x2="2311" y2="1867.5" stroke="#383838" stroke-width="5"/>
<line x1="1375" y1="2789" x2="2311" y2="2789" stroke="#383838" stroke-width="5"/>
<line x1="1375" y1="3715.5" x2="2311" y2="3715.5" stroke="#383838" stroke-width="5"/>
<text x="201" y="144.5" font-size="52" fill="#3a3a3a" text-anchor="end">0</text>
<text x="201" y="285" font-size="52" fill="#3a3a3a" text-anchor="end">0.2</text>
<line x1="122" y1="273" x2="133" y2="273" stroke="#3a3a3a" stroke-width="4"/>
<text x="201" y="425.5" font-size="52" fill="#3a3a3a" text-anchor="end">0.4</text>
<line x1="122" y1="413.5" x2="133" y2="413.5" stroke="#3a3a3a" stroke-width="4"/>
<text x="201" y="566" font-size="52" fill="#3a3a3a" text-anchor="end">0.6</text>
<line x1="122" y1="554" x2="133" y2="554" stroke="#3a3a3a" stroke-width="4"/>
<text x="201" y="706.5" font-size="52" fill="#3a3a3a" text-anchor="end">0.8</text>
<line x1="122" y1="694.5" x2="133" y2="694.5" stroke="#3a3a3a" stroke-width="4"/>
<text x="201" y="847" font-size="52" fill="#3a3a3a" text-anchor="end">1</text>
<line x1="161" y1="835" x2="172" y2="835" stroke="#3a3a3a" stroke-width="4"/>
<text x="201" y="987.5" font-size="52" fill="#3a3a3a" text-anchor="end">1.2</text>
<line x1="122" y1="975.5" x2="133" y2="975.5" stroke="#3a3a3a" stroke-width="4"/>
<text x="201" y="1059" font-size="52" fill="#3a3a3a" text-anchor="end">0</text>
<text x="201" y="1200" font-size="52" fill="#3a3a3a" text-anchor="end">0.2</text>
<line x1="122" y1="1188" x2="133" y2="1188" stroke="#3a3a3a" stroke-width="4"/>
<text x="201" y="1341" font-size="52" fill="#3a3a3a" text-anchor="end">0.4</text>
<line x1="122" y1="1329" x2="133" y2="1329" stroke="#3a3a3a" stroke-width="4"/>
<text x="201" y="1482" font-size="52" fill="#3a3a3a" text-anchor="end">0.6</text>
<line x1="122" y1="1470" x2="133" y2="1470" stroke="#3a3a3a" stroke-width="4"/>
<text x="201" y="1623" font-size="52" fill="#3a3a3a" text-anchor="end">0.8</text>
<line x1="122" y1="1611" x2="133" y2="1611" stroke="#3a3a3a" stroke-width="4"/>
<text x="201" y="1764" font-size="52" fill="#3a3a3a" text-anchor="end">1</text>
<line x1="161" y1="1752" x2="172" y2="1752" stroke="#3a3a3a" stroke-width="4"/>
<text x="201" y="1905" font-size="52" fill="#3a3a3a" text-anchor="end">1.2</text>
<line x1="122" y1="1893" x2="133" y2="1893" stroke="#3a3a3a" stroke-width="4"/>
<text x="201" y="1975" font-size="52" fill="#3a3a3a" text-anchor="end">0</text>
<text x="201" y="2116.1" font-size="52" fill="#3a3a3a" text-anchor="end">0.2</text>
<line x1="122" y1="2104.1" x2="133" y2="2104.1" stroke="#3a3a3a" stroke-width="4"/>
<text x="201" y="2257.2" font-size="52" fill="#3a3a3a" text-anchor="end">0.4</text>
<line x1="122" y1="2245.2" x2="133" y2="2245.2" stroke="#3a3a3a" stroke-width="4"/>
<text x="201" y="2398.3" font-size="52" fill="#3a3a3a" text-anchor="end">0.6</text>
<line x1="122" y1="2386.3" x2="133" y2="2386.3" stroke="#3a3a3a" stroke-width="4"/>
<text x="201" y="2539.4" font-size="52" fill="#3a3a3a" text-anchor="end">0.8</text>
<line x1="122" y1="2527.4" x2="133" y2="2527.4" stroke="#3a3a3a" stroke-width="4"/>
<text x="201" y="2680.5" font-size="52" fill="#3a3a3a" text-anchor="end">1</text>
<line x1="161" y1="2668.5" x2="172" y2="2668.5" stroke="#3a3a3a" stroke-width="4"/>
<text x="201" y="2821.6" font-size="52" fill="#3a3a3a" text-anchor="end">1.2</text>
<line x1="122" y1="2809.6" x2="133" y2="2809.6" stroke="#3a3a3a" stroke-width="4"/>
<text x="201" y="2925.5" font-size="52" fill="#3a3a3a" text-anchor="end">0</text>
<text x="201" y="3129.9" font-size="52" fill="#3a3a3a" text-anchor="end">0.2</text>
<line x1="111" y1="3117.9" x2="133" y2="3117.9" stroke="#3a3a3a" stroke-width="4"/>
<text x="201" y="3334.3" font-size="52" fill="#3a3a3a" text-anchor="end">0.4</text>
<line x1="111" y1="3322.3" x2="133" y2="3322.3" stroke="#3a3a3a" stroke-width="4"/>
<text x="201" y="3538.7" font-size="52" fill="#3a3a3a" text-anchor="end">0.6</text>
<line x1="111" y1="3526.7" x2="133" y2="3526.7" stroke="#3a3a3a" stroke-width="4"/>
<text x="201" y="3736.1" font-size="52" fill="#3a3a3a" text-anchor="end">0.8</text>
<line x1="111" y1="3724.1" x2="133" y2="3724.1" stroke="#3a3a3a" stroke-width="4"/>
<text x="201" y="3770" font-size="52" fill="#3a3a3a" text-anchor="end">0</text>
<text x="201" y="3917.3" font-size="52" fill="#3a3a3a" text-anchor="end">0.05</text>
<line x1="96" y1="3905.3" x2="107" y2="3905.3" stroke="#3a3a3a" stroke-width="4"/>
<text x="201" y="4064.6" font-size="52" fill="#3a3a3a" text-anchor="end">0.1</text>
<line x1="122" y1="4052.6" x2="133" y2="4052.6" stroke="#3a3a3a" stroke-width="4"/>
<text x="201" y="4211.9" font-size="52" fill="#3a3a3a" text-anchor="end">0.15</text>
<line x1="96" y1="4199.9" x2="107" y2="4199.9" stroke="#3a3a3a" stroke-width="4"/>
<text x="201" y="4359.2" font-size="52" fill="#3a3a3a" text-anchor="end">0.2</text>
<line x1="122" y1="4347.2" x2="133" y2="4347.2" stroke="#3a3a3a" stroke-width="4"/>
<text x="201" y="4506.5" font-size="52" fill="#3a3a3a" text-anchor="end">0.25</text>
<line x1="96" y1="4494.5" x2="107" y2="4494.5" stroke="#3a3a3a" stroke-width="4"/>
<text x="201" y="4653.8" font-size="52" fill="#3a3a3a" text-anchor="end">0.3</text>
<line x1="122" y1="4641.8" x2="133" y2="4641.8" stroke="#3a3a3a" stroke-width="4"/>
<text x="225" y="4697" font-size="55" fill="#3a3a3a" text-anchor="middle">0</text>
<text x="377.5" y="4697" font-size="55" fill="#3a3a3a" text-anchor="middle">2</text>
<text x="530" y="4697" font-size="55" fill="#3a3a3a" text-anchor="middle">4</text>
<text x="682.5" y="4697" font-size="55" fill="#3a3a3a" text-anchor="middle">6</text>
<text x="835" y="4697" font-size="55" fill="#3a3a3a" text-anchor="middle">8</text>
<text x="987.5" y="4697" font-size="55" fill="#3a3a3a" text-anchor="middle">10</text>
<text x="1140" y="4697" font-size="55" fill="#3a3a3a" text-anchor="middle">12</text>
<text x="453.6" y="4760" font-size="71" fill="#3a3a3a" textLength="476" lengthAdjust="spacingAndGlyphs">Temperature (K)</text>
<text transform="translate(92,518.5) rotate(-90)" font-size="71.3" fill="#3a3a3a" text-anchor="middle" font-family="Liberation Serif, serif">Magnetization (emu/cm<tspan font-size="40" dy="-42" dx="2">3</tspan><tspan dy="42">)</tspan></text>
<text transform="translate(92,1434) rotate(-90)" font-size="71.3" fill="#3a3a3a" text-anchor="middle" font-family="Liberation Serif, serif">Magnetization (emu/cm<tspan font-size="40" dy="-42" dx="2">3</tspan><tspan dy="42">)</tspan></text>
<text transform="translate(92,2350) rotate(-90)" font-size="71.3" fill="#3a3a3a" text-anchor="middle" font-family="Liberation Serif, serif">Magnetization (emu/cm<tspan font-size="40" dy="-42" dx="2">3</tspan><tspan dy="42">)</tspan></text>
<text transform="translate(92,3269) rotate(-90)" font-size="71.3" fill="#3a3a3a" text-anchor="middle" font-family="Liberation Serif, serif">Magnetization (emu/cm<tspan font-size="40" dy="-42" dx="2">3</tspan><tspan dy="42">)</tspan></text>
<text transform="translate(92,4185.5) rotate(-90)" font-size="71.3" fill="#3a3a3a" text-anchor="middle" font-family="Liberation Serif, serif">Magnetization (emu/cm<tspan font-size="40" dy="-42" dx="2">3</tspan><tspan dy="42">)</tspan></text>
<text x="249.5" y="130" font-size="62" fill="#3a3a3a" textLength="452.5" lengthAdjust="spacingAndGlyphs"><tspan>(a) Sr</tspan><tspan font-size="35" fill="#8a8a8a">0.5</tspan><tspan>La</tspan><tspan font-size="35" fill="#8a8a8a">0.5</tspan><tspan>FBiS</tspan><tspan font-size="35" fill="#8a8a8a">2</tspan></text>
<text x="254" y="1049" font-size="62" fill="#3a3a3a" textLength="453.6" lengthAdjust="spacingAndGlyphs"><tspan>(b) Sr</tspan><tspan font-size="35" fill="#8a8a8a">0.5</tspan><tspan>Ce</tspan><tspan font-size="35" fill="#8a8a8a">0.5</tspan><tspan>FBiS</tspan><tspan font-size="35" fill="#8a8a8a">2</tspan></text>
<text x="254" y="1962.6" font-size="62" fill="#3a3a3a" textLength="442.7" lengthAdjust="spacingAndGlyphs"><tspan>(c) Sr</tspan><tspan font-size="35" fill="#8a8a8a">0.5</tspan><tspan>Pr</tspan><tspan font-size="35" fill="#8a8a8a">0.5</tspan><tspan>FBiS</tspan><tspan font-size="35" fill="#8a8a8a">2</tspan></text>
<text x="259.8" y="2883.5" font-size="62" fill="#3a3a3a" textLength="466" lengthAdjust="spacingAndGlyphs"><tspan>(d) Sr</tspan><tspan font-size="35" fill="#8a8a8a">0.5</tspan><tspan>Nd</tspan><tspan font-size="35" fill="#8a8a8a">0.5</tspan><tspan>FBiS</tspan><tspan font-size="35" fill="#8a8a8a">2</tspan></text>
<text x="255.5" y="3807" font-size="62" fill="#3a3a3a" textLength="470" lengthAdjust="spacingAndGlyphs"><tspan>(e) Sr</tspan><tspan font-size="35" fill="#8a8a8a">0.5</tspan><tspan>Sm</tspan><tspan font-size="35" fill="#8a8a8a">0.5</tspan><tspan>FBiS</tspan><tspan font-size="35" fill="#8a8a8a">2</tspan></text>
<text x="1350" y="76" font-size="52" fill="#5a5a5a" text-anchor="end">15</text>
<text x="1350" y="376.3" font-size="52" fill="#5a5a5a" text-anchor="end">10</text>
<text x="1350" y="679.7" font-size="52" fill="#5a5a5a" text-anchor="end">5</text>
<text transform="translate(1270,516) rotate(-90)" font-size="60" fill="#555" text-anchor="middle" font-family="Liberation Serif, serif"><tspan font-style="italic">T</tspan><tspan font-size="42" dy="24">c</tspan><tspan dy="-24"> (K)</tspan></text>
<text x="1350" y="986" font-size="52" fill="#5a5a5a" text-anchor="end">15</text>
<text x="1350" y="1281.8" font-size="52" fill="#5a5a5a" text-anchor="end">10</text>
<text x="1350" y="1580.7" font-size="52" fill="#5a5a5a" text-anchor="end">5</text>
<text transform="translate(1270,1419.2) rotate(-90)" font-size="60" fill="#555" text-anchor="middle" font-family="Liberation Serif, serif"><tspan font-style="italic">T</tspan><tspan font-size="42" dy="24">c</tspan><tspan dy="-24"> (K)</tspan></text>
<text x="1350" y="1882.5" font-size="52" fill="#5a5a5a" text-anchor="end">15</text>
<text x="1350" y="2186.7" font-size="52" fill="#5a5a5a" text-anchor="end">10</text>
<text x="1350" y="2493.8" font-size="52" fill="#5a5a5a" text-anchor="end">5</text>
<text transform="translate(1270,2328.2) rotate(-90)" font-size="60" fill="#555" text-anchor="middle" font-family="Liberation Serif, serif"><tspan font-style="italic">T</tspan><tspan font-size="42" dy="24">c</tspan><tspan dy="-24"> (K)</tspan></text>
<text x="1350" y="2804" font-size="52" fill="#5a5a5a" text-anchor="end">15</text>
<text x="1350" y="3109.8" font-size="52" fill="#5a5a5a" text-anchor="end">10</text>
<text x="1350" y="3418.7" font-size="52" fill="#5a5a5a" text-anchor="end">5</text>
<text transform="translate(1270,3252.2) rotate(-90)" font-size="60" fill="#555" text-anchor="middle" font-family="Liberation Serif, serif"><tspan font-style="italic">T</tspan><tspan font-size="42" dy="24">c</tspan><tspan dy="-24"> (K)</tspan></text>
<text x="1350" y="3730.5" font-size="52" fill="#5a5a5a" text-anchor="end">15</text>
<text x="1350" y="4037.3" font-size="52" fill="#5a5a5a" text-anchor="end">10</text>
<text x="1350" y="4347.2" font-size="52" fill="#5a5a5a" text-anchor="end">5</text>
<text transform="translate(1270,4180.2) rotate(-90)" font-size="60" fill="#555" text-anchor="middle" font-family="Liberation Serif, serif"><tspan font-style="italic">T</tspan><tspan font-size="42" dy="24">c</tspan><tspan dy="-24"> (K)</tspan></text>
<text x="1351" y="4654" font-size="52" fill="#5a5a5a" text-anchor="end">0</text>
<text x="1375" y="4693" font-size="55" fill="#3a3a3a" text-anchor="middle">0.0</text>
<text x="1687" y="4693" font-size="55" fill="#3a3a3a" text-anchor="middle">0.50</text>
<text x="1999" y="4693" font-size="55" fill="#3a3a3a" text-anchor="middle">1.0</text>
<text x="2311" y="4693" font-size="55" fill="#3a3a3a" text-anchor="middle">1.5</text>
<text x="1629" y="4760" font-size="72" fill="#3a3a3a" textLength="438.7" lengthAdjust="spacingAndGlyphs">Pressure (GPa)</text>
<text x="1391.5" y="128.6" font-size="62" fill="#3a3a3a" textLength="459" lengthAdjust="spacingAndGlyphs"><tspan>(f) Sr</tspan><tspan font-size="35" fill="#8a8a8a">0.5</tspan><tspan>La</tspan><tspan font-size="35" fill="#8a8a8a">0.5</tspan><tspan>FBiS</tspan><tspan font-size="35" fill="#8a8a8a">2</tspan></text>
<text x="1401" y="1038.6" font-size="62" fill="#3a3a3a" textLength="468" lengthAdjust="spacingAndGlyphs"><tspan>(g) Sr</tspan><tspan font-size="35" fill="#8a8a8a">0.5</tspan><tspan>Ce</tspan><tspan font-size="35" fill="#8a8a8a">0.5</tspan><tspan>FBiS</tspan><tspan font-size="35" fill="#8a8a8a">2</tspan></text>
<text x="1397.5" y="1935" font-size="62" fill="#3a3a3a" textLength="473.5" lengthAdjust="spacingAndGlyphs"><tspan>(h) Sr</tspan><tspan font-size="35" fill="#8a8a8a">0.5</tspan><tspan>Pr</tspan><tspan font-size="35" fill="#8a8a8a">0.5</tspan><tspan>FBiS</tspan><tspan font-size="35" fill="#8a8a8a">2</tspan></text>
<text x="1397.5" y="2855" font-size="62" fill="#3a3a3a" textLength="479.5" lengthAdjust="spacingAndGlyphs"><tspan>(i) Sr</tspan><tspan font-size="35" fill="#8a8a8a">0.5</tspan><tspan>Nd</tspan><tspan font-size="35" fill="#8a8a8a">0.5</tspan><tspan>FBiS</tspan><tspan font-size="35" fill="#8a8a8a">2</tspan></text>
<text x="1403.5" y="3782" font-size="62" fill="#3a3a3a" textLength="484.5" lengthAdjust="spacingAndGlyphs"><tspan>(j) Sr</tspan><tspan font-size="35" fill="#8a8a8a">0.5</tspan><tspan>Sm</tspan><tspan font-size="35" fill="#8a8a8a">0.5</tspan><tspan>FBiS</tspan><tspan font-size="35" fill="#8a8a8a">2</tspan></text>
<circle cx="1378" cy="802" r="10" fill="#ff0000"/>
<circle cx="1495" cy="802" r="10" fill="#ff0000"/>
<circle cx="1695" cy="802" r="10" fill="#ff0000"/>
<circle cx="1899" cy="790" r="10" fill="#ff0000"/>
<circle cx="1967" cy="317.4" r="10" fill="#ff0000"/>
<circle cx="2012" cy="317.4" r="10" fill="#ff0000"/>
<circle cx="2093" cy="317.4" r="10" fill="#ff0000"/>
<circle cx="1378" cy="1701" r="10" fill="#ff0000"/>
<circle cx="1549" cy="1699" r="10" fill="#ff0000"/>
<circle cx="1705" cy="1697" r="10" fill="#ff0000"/>
<circle cx="1967" cy="1630" r="10" fill="#ff0000"/>
<circle cx="2065.6" cy="1269.4" r="10" fill="#ff0000"/>
<circle cx="2090.4" cy="1269.4" r="10" fill="#ff0000"/>
<circle cx="1377" cy="2625.6" r="10" fill="#ff0000"/>
<circle cx="1623.7" cy="2621" r="10" fill="#ff0000"/>
<circle cx="1774" cy="2618" r="10" fill="#ff0000"/>
<circle cx="1952" cy="2616" r="10" fill="#ff0000"/>
<circle cx="2103" cy="2144.6" r="10" fill="#ff0000"/>
<circle cx="2264" cy="2144.6" r="10" fill="#ff0000"/>
<circle cx="1376" cy="3567" r="10" fill="#ff0000"/>
<circle cx="1497" cy="3565.8" r="10" fill="#ff0000"/>
<circle cx="1648" cy="3563.6" r="10" fill="#ff0000"/>
<circle cx="1922.4" cy="3552.6" r="10" fill="#ff0000"/>
<circle cx="2106" cy="3469" r="10" fill="#ff0000"/>
<circle cx="2201" cy="3098" r="10" fill="#ff0000"/>
<circle cx="1377" cy="4518.7" r="10" fill="#ff0000"/>
<circle cx="1609.5" cy="4512" r="10" fill="#ff0000"/>
<circle cx="1820.7" cy="4504.5" r="10" fill="#ff0000"/>
<circle cx="2010" cy="4500.7" r="10" fill="#ff0000"/>
<circle cx="2075.4" cy="4494.8" r="10" fill="#ff0000"/>
<circle cx="2171" cy="4489.5" r="10" fill="#ff0000"/>
<text x="1730.8" y="252" font-size="61" fill="#333" textLength="243" lengthAdjust="spacingAndGlyphs">0.95 GPa</text>
<text x="2023" y="252" font-size="61" fill="#333" textLength="236" lengthAdjust="spacingAndGlyphs">1.15 GPa</text>
<text x="1656" y="724.6" font-size="61" fill="#333" textLength="239.6" lengthAdjust="spacingAndGlyphs">0.84 GPa</text>
<text x="1768" y="1211" font-size="61" fill="#333" textLength="232.5" lengthAdjust="spacingAndGlyphs">1.11 GPa</text>
<text x="2041.7" y="1211" font-size="61" fill="#333" textLength="236" lengthAdjust="spacingAndGlyphs">1.15 GPa</text>
<text x="1760.8" y="1579.8" font-size="61" fill="#333" textLength="239.7" lengthAdjust="spacingAndGlyphs">0.94 GPa</text>
<text x="1764.5" y="2101" font-size="61" fill="#333" textLength="243.5" lengthAdjust="spacingAndGlyphs">1.17 GPa</text>
<text x="2045" y="2101" font-size="61" fill="#333" textLength="244" lengthAdjust="spacingAndGlyphs">1.43 GPa</text>
<text x="1708" y="2550.7" font-size="61" fill="#333" textLength="249.8" lengthAdjust="spacingAndGlyphs">0.93 GPa</text>
<text x="1966.8" y="3023.4" font-size="61" fill="#333" textLength="241.2" lengthAdjust="spacingAndGlyphs">1.33 GPa</text>
<text x="1858" y="3389.8" font-size="61" fill="#333" textLength="243.6" lengthAdjust="spacingAndGlyphs">1.17 GPa</text>
<text x="1671" y="3478" font-size="61" fill="#333" textLength="247" lengthAdjust="spacingAndGlyphs">0.87 GPa</text>
<text x="1742" y="4440.8" font-size="61" fill="#333" textLength="243.5" lengthAdjust="spacingAndGlyphs">1.03 GPa</text>
<text x="2030" y="4440.8" font-size="61" fill="#333" textLength="244" lengthAdjust="spacingAndGlyphs">1.28 GPa</text>
<line x1="1905" y1="268" x2="1946.3" y2="298.2" stroke="#111" stroke-width="3"/>
<polygon points="1957,306 1934.5,299.5 1944,286.6" fill="#111"/>
<line x1="2114" y1="262" x2="2092.4" y2="294.1" stroke="#111" stroke-width="3"/>
<polygon points="2085,305 2090.7,282.3 2103.9,291.2" fill="#111"/>
<line x1="1839" y1="732" x2="1875.4" y2="766" stroke="#111" stroke-width="3"/>
<polygon points="1885,775 1863.5,765.8 1874.4,754.1" fill="#111"/>
<line x1="1989" y1="1218" x2="2041.9" y2="1252.4" stroke="#111" stroke-width="3"/>
<polygon points="2053,1259.6 2030.2,1254.3 2038.9,1240.9" fill="#111"/>
<line x1="2139" y1="1211" x2="2106.7" y2="1248.1" stroke="#111" stroke-width="3"/>
<polygon points="2098,1258 2106.4,1236.2 2118.5,1246.7" fill="#111"/>
<line x1="1906" y1="1597" x2="1943.2" y2="1616" stroke="#111" stroke-width="3"/>
<polygon points="1955,1622 1931.8,1619.1 1939,1604.9" fill="#111"/>
<line x1="1967" y1="2111" x2="2070.2" y2="2135.5" stroke="#111" stroke-width="3"/>
<polygon points="2083,2138.6 2059.7,2141.3 2063.4,2125.7" fill="#111"/>
<line x1="2202.7" y1="2114.7" x2="2233.1" y2="2135.5" stroke="#111" stroke-width="3"/>
<polygon points="2244,2143 2221.3,2137.2 2230.4,2124" fill="#111"/>
<line x1="1892" y1="2559.7" x2="1922.8" y2="2585" stroke="#111" stroke-width="3"/>
<polygon points="1933,2593.4 1910.9,2585.6 1921.1,2573.3" fill="#111"/>
<line x1="2140.5" y1="3034.7" x2="2174.8" y2="3070.1" stroke="#111" stroke-width="3"/>
<polygon points="2184,3079.6 2162.9,3069.4 2174.4,3058.2" fill="#111"/>
<line x1="2045" y1="3407" x2="2079.9" y2="3443.5" stroke="#111" stroke-width="3"/>
<polygon points="2089,3453 2068,3442.6 2079.6,3431.6" fill="#111"/>
<line x1="1857" y1="3494" x2="1893.5" y2="3529.2" stroke="#111" stroke-width="3"/>
<polygon points="1903,3538.4 1881.6,3528.9 1892.7,3517.4" fill="#111"/>
<line x1="1951.8" y1="4455.8" x2="1986.3" y2="4482.9" stroke="#111" stroke-width="3"/>
<polygon points="1996.7,4491 1974.5,4483.7 1984.3,4471.1" fill="#111"/>
<line x1="2116.6" y1="4448" x2="2147.8" y2="4474.9" stroke="#111" stroke-width="3"/>
<polygon points="2157.8,4483.5 2135.9,4475.2 2146.4,4463.1" fill="#111"/>
<text x="1854" y="559.8" font-size="63" font-weight="bold" fill="#111" textLength="356" lengthAdjust="spacingAndGlyphs">high-<tspan font-style="italic">P</tspan> phase</text>
<text x="1523" y="868.7" font-size="63" font-weight="bold" fill="#111" textLength="327.6" lengthAdjust="spacingAndGlyphs">low-<tspan font-style="italic">P</tspan> phase</text>
<text x="1966.8" y="1486" font-size="63" font-weight="bold" fill="#111" textLength="183" lengthAdjust="spacingAndGlyphs">high-<tspan font-style="italic">P</tspan></text>
<text x="1584.7" y="1759.6" font-size="63" font-weight="bold" fill="#111" textLength="161" lengthAdjust="spacingAndGlyphs">low-<tspan font-style="italic">P</tspan></text>
<text x="2064" y="2432" font-size="63" font-weight="bold" fill="#111" textLength="191" lengthAdjust="spacingAndGlyphs">high-<tspan font-style="italic">P</tspan></text>
<text x="1644.7" y="2690.8" font-size="63" font-weight="bold" fill="#111" textLength="165" lengthAdjust="spacingAndGlyphs">low-<tspan font-style="italic">P</tspan></text>
<text x="2068" y="3270" font-size="63" font-weight="bold" fill="#111" textLength="187" lengthAdjust="spacingAndGlyphs">High-<tspan font-style="italic">P</tspan></text>
<text x="1674.6" y="3618" font-size="63" font-weight="bold" fill="#111" textLength="191" lengthAdjust="spacingAndGlyphs">Low-<tspan font-style="italic">P</tspan></text>
<text x="1700.8" y="4571" font-size="63" font-weight="bold" fill="#111" textLength="165" lengthAdjust="spacingAndGlyphs">low-<tspan font-style="italic">P</tspan></text>
<text x="1429" y="928" font-size="60" fill="#0a82d2" font-weight="bold" textLength="313" lengthAdjust="spacingAndGlyphs" stroke="#0a82d2" stroke-width="1.2">Filamentary</text>
<text x="1754.5" y="928" font-size="60" fill="#1010f0" font-weight="bold" textLength="115.8" lengthAdjust="spacingAndGlyphs" stroke="#1010f0" stroke-width="1.2">Bulk</text>
<text x="1940.5" y="928" font-size="60" fill="#ff1a1a" font-weight="bold" textLength="116" lengthAdjust="spacingAndGlyphs" stroke="#ff1a1a" stroke-width="1.2">Bulk</text>
<text x="1401" y="1823" font-size="60" fill="#0a82d2" font-weight="bold" textLength="307" lengthAdjust="spacingAndGlyphs" stroke="#0a82d2" stroke-width="1.2">Filamentary</text>
<text x="1790.7" y="1823" font-size="60" fill="#1010f0" font-weight="bold" textLength="117.6" lengthAdjust="spacingAndGlyphs" stroke="#1010f0" stroke-width="1.2">Bulk</text>
<text x="1955.5" y="1823" font-size="60" fill="#ff1a1a" font-weight="bold" textLength="116" lengthAdjust="spacingAndGlyphs" stroke="#ff1a1a" stroke-width="1.2">Bulk</text>
<text x="1403.5" y="2748.5" font-size="60" fill="#0a82d2" font-weight="bold" textLength="317.5" lengthAdjust="spacingAndGlyphs" stroke="#0a82d2" stroke-width="1.2">Filamentary</text>
<text x="1798" y="2748.5" font-size="60" fill="#1010f0" font-weight="bold" textLength="122" lengthAdjust="spacingAndGlyphs" stroke="#1010f0" stroke-width="1.2">Bulk</text>
<text x="2101.6" y="2748.5" font-size="60" fill="#ff1a1a" font-weight="bold" textLength="123.4" lengthAdjust="spacingAndGlyphs" stroke="#ff1a1a" stroke-width="1.2">Bulk</text>
<text x="1532" y="3674.5" font-size="60" fill="#0a82d2" font-weight="bold" textLength="318.6" lengthAdjust="spacingAndGlyphs" stroke="#0a82d2" stroke-width="1.2">Filamentary</text>
<text x="1949" y="3676.8" font-size="60" fill="#1010f0" font-weight="bold" textLength="122.5" lengthAdjust="spacingAndGlyphs" stroke="#1010f0" stroke-width="1.2">Bulk</text>
<text x="2084" y="3676.8" font-size="60" fill="#ff1a1a" font-weight="bold" textLength="122.3" lengthAdjust="spacingAndGlyphs" stroke="#ff1a1a" stroke-width="1.2">Bulk</text>
<text x="1611" y="4618" font-size="60" fill="#0a82d2" font-weight="bold" textLength="318" lengthAdjust="spacingAndGlyphs" stroke="#0a82d2" stroke-width="1.2">Filamentary</text>
<text x="902.6" y="496.8" font-size="58" fill="#333"><tspan font-style="italic">P</tspan> (GPa)</text>
<text x="928.6" y="551" font-size="64" fill="#2a2a2a" textLength="110" lengthAdjust="spacingAndGlyphs">0.00</text>
<text x="928.6" y="599.5" font-size="64" fill="#2a2a2a" textLength="110" lengthAdjust="spacingAndGlyphs">0.01</text>
<text x="928.6" y="648" font-size="64" fill="#2a2a2a" textLength="110" lengthAdjust="spacingAndGlyphs">0.19</text>
<text x="928.6" y="696.5" font-size="64" fill="#2a2a2a" textLength="110" lengthAdjust="spacingAndGlyphs">0.51</text>
<text x="928.6" y="745" font-size="64" fill="#2a2a2a" textLength="146" lengthAdjust="spacingAndGlyphs">0.836</text>
<text x="928.6" y="793.5" font-size="64" fill="#2a2a2a" textLength="146" lengthAdjust="spacingAndGlyphs">0.840</text>
<text x="928.6" y="842" font-size="64" fill="#2a2a2a" textLength="110" lengthAdjust="spacingAndGlyphs">0.95</text>
<text x="928.6" y="890.5" font-size="64" fill="#2a2a2a" textLength="110" lengthAdjust="spacingAndGlyphs">1.02</text>
<text x="928.6" y="939" font-size="64" fill="#2a2a2a" textLength="110" lengthAdjust="spacingAndGlyphs">1.15</text>
<line x1="907.3" y1="525" x2="907.3" y2="925" stroke="#a0a0a0" stroke-width="3"/>
<polygon points="907.3,937 900.3,919 914.3,919" fill="#111"/>
<text x="892.6" y="1481.7" font-size="58" fill="#333"><tspan font-style="italic">P</tspan> (GPa)</text>
<text x="932.5" y="1543.4" font-size="64" fill="#2a2a2a" textLength="110" lengthAdjust="spacingAndGlyphs">0.00</text>
<text x="932.5" y="1592" font-size="64" fill="#2a2a2a" textLength="110" lengthAdjust="spacingAndGlyphs">0.28</text>
<text x="932.5" y="1640.6" font-size="64" fill="#2a2a2a" textLength="110" lengthAdjust="spacingAndGlyphs">0.53</text>
<text x="932.5" y="1689.2" font-size="64" fill="#2a2a2a" textLength="110" lengthAdjust="spacingAndGlyphs">0.94</text>
<text x="932.5" y="1737.8" font-size="64" fill="#2a2a2a" textLength="110" lengthAdjust="spacingAndGlyphs">1.11</text>
<text x="932.5" y="1786.4" font-size="64" fill="#2a2a2a" textLength="110" lengthAdjust="spacingAndGlyphs">1.15</text>
<line x1="901.3" y1="1503.5" x2="901.3" y2="1781.7" stroke="#a0a0a0" stroke-width="3"/>
<polygon points="901.3,1793.7 894.3,1775.7 908.3,1775.7" fill="#111"/>
<text x="881.7" y="2390.8" font-size="58" fill="#333"><tspan font-style="italic">P</tspan> (GPa)</text>
<text x="918" y="2448.9" font-size="64" fill="#2a2a2a" textLength="110" lengthAdjust="spacingAndGlyphs">0.00</text>
<text x="918" y="2498.2" font-size="64" fill="#2a2a2a" textLength="110" lengthAdjust="spacingAndGlyphs">0.40</text>
<text x="918" y="2547.5" font-size="64" fill="#2a2a2a" textLength="110" lengthAdjust="spacingAndGlyphs">0.64</text>
<text x="918" y="2596.8" font-size="64" fill="#2a2a2a" textLength="110" lengthAdjust="spacingAndGlyphs">0.93</text>
<text x="918" y="2646.1" font-size="64" fill="#2a2a2a" textLength="110" lengthAdjust="spacingAndGlyphs">1.17</text>
<text x="918" y="2695.4" font-size="64" fill="#2a2a2a" textLength="110" lengthAdjust="spacingAndGlyphs">1.43</text>
<line x1="886.8" y1="2412.6" x2="886.8" y2="2687" stroke="#a0a0a0" stroke-width="3"/>
<polygon points="886.8,2699 879.8,2681 893.8,2681" fill="#111"/>
<text x="881.7" y="3332.6" font-size="58" fill="#333"><tspan font-style="italic">P</tspan> (GPa)</text>
<text x="921.7" y="3394" font-size="64" fill="#2a2a2a" textLength="110" lengthAdjust="spacingAndGlyphs">0.00</text>
<text x="921.7" y="3443.4" font-size="64" fill="#2a2a2a" textLength="110" lengthAdjust="spacingAndGlyphs">0.20</text>
<text x="921.7" y="3492.8" font-size="64" fill="#2a2a2a" textLength="110" lengthAdjust="spacingAndGlyphs">0.44</text>
<text x="921.7" y="3542.2" font-size="64" fill="#2a2a2a" textLength="110" lengthAdjust="spacingAndGlyphs">0.87</text>
<text x="921.7" y="3591.6" font-size="64" fill="#2a2a2a" textLength="110" lengthAdjust="spacingAndGlyphs">1.17</text>
<text x="921.7" y="3641" font-size="64" fill="#2a2a2a" textLength="110" lengthAdjust="spacingAndGlyphs">1.33</text>
<line x1="889" y1="3354" x2="889" y2="3629" stroke="#a0a0a0" stroke-width="3"/>
<polygon points="889,3641 882,3623 896,3623" fill="#111"/>
<text x="896" y="4274" font-size="58" fill="#333"><tspan font-style="italic">P</tspan> (GPa)</text>
<text x="936" y="4336" font-size="64" fill="#2a2a2a" textLength="110" lengthAdjust="spacingAndGlyphs">0.00</text>
<text x="936" y="4384.6" font-size="64" fill="#2a2a2a" textLength="110" lengthAdjust="spacingAndGlyphs">0.38</text>
<text x="936" y="4433.2" font-size="64" fill="#2a2a2a" textLength="110" lengthAdjust="spacingAndGlyphs">0.72</text>
<text x="936" y="4481.8" font-size="64" fill="#2a2a2a" textLength="110" lengthAdjust="spacingAndGlyphs">1.03</text>
<text x="936" y="4530.4" font-size="64" fill="#2a2a2a" textLength="110" lengthAdjust="spacingAndGlyphs">1.12</text>
<text x="936" y="4579" font-size="64" fill="#2a2a2a" textLength="110" lengthAdjust="spacingAndGlyphs">1.28</text>
<line x1="905" y1="4299.7" x2="905" y2="4567" stroke="#a0a0a0" stroke-width="3"/>
<polygon points="905,4579 898,4561 912,4561" fill="#111"/>
<text x="445.7" y="203" font-size="56" fill="#333"><tspan font-style="italic">T</tspan><tspan font-size="38" dy="10">c</tspan><tspan dy="-10"> of Pb</tspan></text>
</svg>
</body></html>
